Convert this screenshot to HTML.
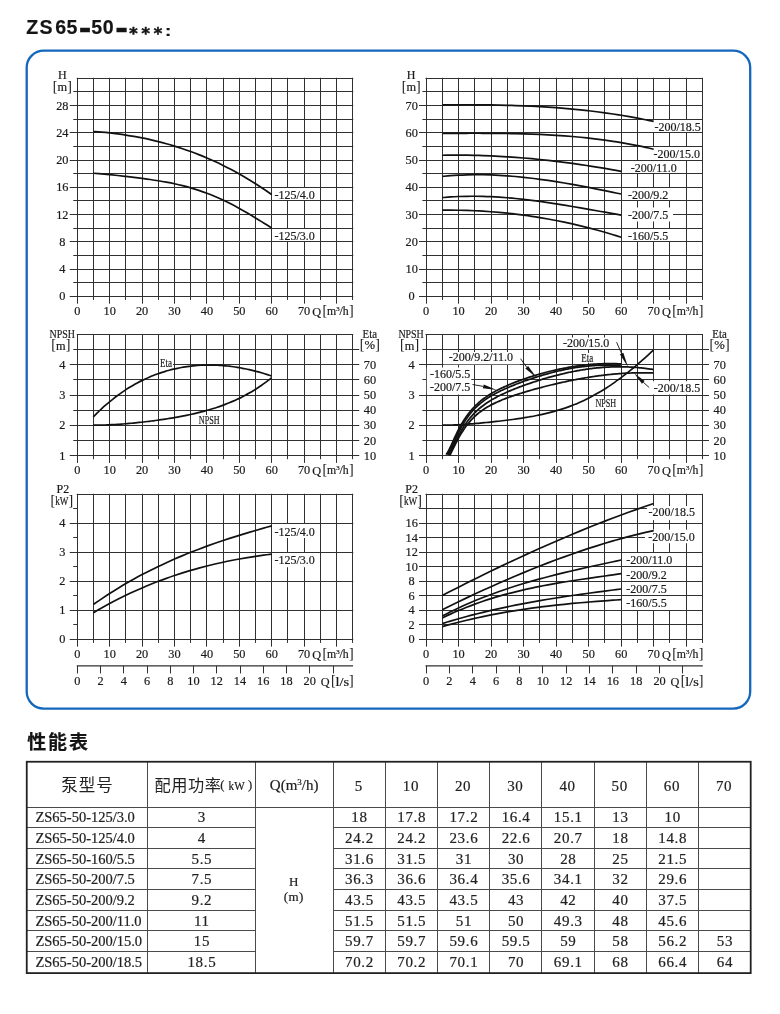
<!DOCTYPE html>
<html lang="zh-CN">
<head>
<meta charset="utf-8">
<title>ZS 65-50 性能表</title>
<style>
html,body{margin:0;padding:0;background:#fff;}
body{width:780px;height:1014px;position:relative;overflow:hidden;font-family:"Liberation Sans","Noto Sans CJK SC",sans-serif;}
</style>
</head>
<body>
<svg width="780" height="1014" viewBox="0 0 780 1014" style="position:absolute;left:0;top:0;will-change:transform" font-family='"Liberation Serif", serif'>
<style>text{stroke:#1a1a1a;stroke-width:0.2px}</style>
<rect x="26.7" y="50.7" width="723.5" height="657.9" rx="17" ry="17" fill="none" stroke="#1467bd" stroke-width="2.3"/>
<text x="26.3" y="34.2" font-size="19.6" font-weight="bold" fill="#141414" font-family='"Liberation Sans","Noto Sans CJK SC",sans-serif' letter-spacing="1.2">ZS</text>
<text x="55.2" y="34.2" font-size="19.6" font-weight="bold" fill="#141414" font-family='"Liberation Sans","Noto Sans CJK SC",sans-serif' letter-spacing="0.5">65</text>
<text x="91.3" y="34.2" font-size="19.6" font-weight="bold" fill="#141414" font-family='"Liberation Sans","Noto Sans CJK SC",sans-serif' letter-spacing="0.5">50</text>
<text transform="translate(78.82,39.03) scale(1.93,1.67)" font-size="19.6" font-weight="bold" fill="#141414" font-family='"Liberation Sans","Noto Sans CJK SC",sans-serif'>-</text>
<text transform="translate(115.21,39.03) scale(1.95,1.67)" font-size="19.6" font-weight="bold" fill="#141414" font-family='"Liberation Sans","Noto Sans CJK SC",sans-serif'>-</text>
<text x="128.4" y="38.7" font-size="16.5" font-weight="700" letter-spacing="2.37" fill="#141414" style="stroke-width:0.55px" font-family='"DejaVu Sans Mono","Liberation Mono",monospace'>***</text>
<text transform="translate(165.1,35.6) scale(1.35,1)" font-size="14" font-weight="bold" fill="#141414" font-family='"Liberation Sans","Noto Sans CJK SC",sans-serif'>:</text>
<line x1="77.5" y1="77.75" x2="77.5" y2="303.65" stroke="#303030" stroke-width="1"/>
<line x1="93.5" y1="77.75" x2="93.5" y2="299.95" stroke="#303030" stroke-width="1"/>
<line x1="109.5" y1="77.75" x2="109.5" y2="303.65" stroke="#303030" stroke-width="1"/>
<line x1="125.5" y1="77.75" x2="125.5" y2="299.95" stroke="#303030" stroke-width="1"/>
<line x1="142.5" y1="77.75" x2="142.5" y2="303.65" stroke="#303030" stroke-width="1"/>
<line x1="158.5" y1="77.75" x2="158.5" y2="299.95" stroke="#303030" stroke-width="1"/>
<line x1="174.5" y1="77.75" x2="174.5" y2="303.65" stroke="#303030" stroke-width="1"/>
<line x1="190.5" y1="77.75" x2="190.5" y2="299.95" stroke="#303030" stroke-width="1"/>
<line x1="206.5" y1="77.75" x2="206.5" y2="303.65" stroke="#303030" stroke-width="1"/>
<line x1="223.5" y1="77.75" x2="223.5" y2="299.95" stroke="#303030" stroke-width="1"/>
<line x1="239.5" y1="77.75" x2="239.5" y2="303.65" stroke="#303030" stroke-width="1"/>
<line x1="255.5" y1="77.75" x2="255.5" y2="299.95" stroke="#303030" stroke-width="1"/>
<line x1="271.5" y1="77.75" x2="271.5" y2="303.65" stroke="#303030" stroke-width="1"/>
<line x1="287.5" y1="77.75" x2="287.5" y2="299.95" stroke="#303030" stroke-width="1"/>
<line x1="304.5" y1="77.75" x2="304.5" y2="303.65" stroke="#303030" stroke-width="1"/>
<line x1="320.5" y1="77.75" x2="320.5" y2="299.95" stroke="#303030" stroke-width="1"/>
<line x1="336.5" y1="77.75" x2="336.5" y2="303.65" stroke="#303030" stroke-width="1"/>
<line x1="352.5" y1="77.75" x2="352.5" y2="299.95" stroke="#303030" stroke-width="1"/>
<line x1="76.75" y1="78.5" x2="353.25" y2="78.5" stroke="#303030" stroke-width="1"/>
<line x1="76.75" y1="91.5" x2="353.25" y2="91.5" stroke="#303030" stroke-width="1"/>
<line x1="76.75" y1="105.5" x2="353.25" y2="105.5" stroke="#303030" stroke-width="1"/>
<line x1="76.75" y1="119.5" x2="353.25" y2="119.5" stroke="#303030" stroke-width="1"/>
<line x1="76.75" y1="132.5" x2="353.25" y2="132.5" stroke="#303030" stroke-width="1"/>
<line x1="76.75" y1="146.5" x2="353.25" y2="146.5" stroke="#303030" stroke-width="1"/>
<line x1="76.75" y1="160.5" x2="353.25" y2="160.5" stroke="#303030" stroke-width="1"/>
<line x1="76.75" y1="173.5" x2="353.25" y2="173.5" stroke="#303030" stroke-width="1"/>
<line x1="76.75" y1="187.5" x2="353.25" y2="187.5" stroke="#303030" stroke-width="1"/>
<line x1="76.75" y1="200.5" x2="353.25" y2="200.5" stroke="#303030" stroke-width="1"/>
<line x1="76.75" y1="214.5" x2="353.25" y2="214.5" stroke="#303030" stroke-width="1"/>
<line x1="76.75" y1="228.5" x2="353.25" y2="228.5" stroke="#303030" stroke-width="1"/>
<line x1="76.75" y1="241.5" x2="353.25" y2="241.5" stroke="#303030" stroke-width="1"/>
<line x1="76.75" y1="255.5" x2="353.25" y2="255.5" stroke="#303030" stroke-width="1"/>
<line x1="76.75" y1="269.5" x2="353.25" y2="269.5" stroke="#303030" stroke-width="1"/>
<line x1="76.75" y1="282.5" x2="353.25" y2="282.5" stroke="#303030" stroke-width="1"/>
<line x1="76.75" y1="296.5" x2="353.25" y2="296.5" stroke="#303030" stroke-width="1"/>
<text x="77.25" y="314.55" font-size="12.3" text-anchor="middle" fill="#1a1a1a" >0</text>
<text x="109.66" y="314.55" font-size="12.3" text-anchor="middle" fill="#1a1a1a" >10</text>
<text x="142.07" y="314.55" font-size="12.3" text-anchor="middle" fill="#1a1a1a" >20</text>
<text x="174.49" y="314.55" font-size="12.3" text-anchor="middle" fill="#1a1a1a" >30</text>
<text x="206.9" y="314.55" font-size="12.3" text-anchor="middle" fill="#1a1a1a" >40</text>
<text x="239.31" y="314.55" font-size="12.3" text-anchor="middle" fill="#1a1a1a" >50</text>
<text x="271.72" y="314.55" font-size="12.3" text-anchor="middle" fill="#1a1a1a" >60</text>
<text x="304.13" y="314.55" font-size="12.3" text-anchor="middle" fill="#1a1a1a" >70</text>
<text x="312.15" y="315.65" font-size="12.3" text-anchor="start" fill="#1a1a1a" >Q</text>
<text x="322.41" y="314.85" font-size="14" fill="#1a1a1a" style="stroke-width:0.05px">[</text>
<text x="326.95" y="315.15" font-size="12" textLength="21.8" lengthAdjust="spacingAndGlyphs" fill="#1a1a1a">m<tspan font-size="7" dy="-4">3</tspan><tspan dy="4">/h</tspan></text>
<text x="349.04" y="314.85" font-size="14" fill="#1a1a1a" style="stroke-width:0.05px">]</text>
<line x1="69.75" y1="296.5" x2="77.25" y2="296.5" stroke="#303030" stroke-width="1"/>
<line x1="69.75" y1="269.5" x2="77.25" y2="269.5" stroke="#303030" stroke-width="1"/>
<line x1="69.75" y1="241.5" x2="77.25" y2="241.5" stroke="#303030" stroke-width="1"/>
<line x1="69.75" y1="214.5" x2="77.25" y2="214.5" stroke="#303030" stroke-width="1"/>
<line x1="69.75" y1="187.5" x2="77.25" y2="187.5" stroke="#303030" stroke-width="1"/>
<line x1="69.75" y1="160.5" x2="77.25" y2="160.5" stroke="#303030" stroke-width="1"/>
<line x1="69.75" y1="132.5" x2="77.25" y2="132.5" stroke="#303030" stroke-width="1"/>
<line x1="69.75" y1="105.5" x2="77.25" y2="105.5" stroke="#303030" stroke-width="1"/>
<line x1="73.25" y1="282.5" x2="77.25" y2="282.5" stroke="#303030" stroke-width="1"/>
<line x1="73.25" y1="255.5" x2="77.25" y2="255.5" stroke="#303030" stroke-width="1"/>
<line x1="73.25" y1="228.5" x2="77.25" y2="228.5" stroke="#303030" stroke-width="1"/>
<line x1="73.25" y1="200.5" x2="77.25" y2="200.5" stroke="#303030" stroke-width="1"/>
<line x1="73.25" y1="173.5" x2="77.25" y2="173.5" stroke="#303030" stroke-width="1"/>
<line x1="73.25" y1="146.5" x2="77.25" y2="146.5" stroke="#303030" stroke-width="1"/>
<line x1="73.25" y1="119.5" x2="77.25" y2="119.5" stroke="#303030" stroke-width="1"/>
<line x1="73.25" y1="91.5" x2="77.25" y2="91.5" stroke="#303030" stroke-width="1"/>
<text x="62.35" y="300.45" font-size="12.3" text-anchor="middle" fill="#1a1a1a" >0</text>
<text x="62.35" y="273.2" font-size="12.3" text-anchor="middle" fill="#1a1a1a" >4</text>
<text x="62.35" y="245.95" font-size="12.3" text-anchor="middle" fill="#1a1a1a" >8</text>
<text x="62.35" y="218.7" font-size="12.3" text-anchor="middle" fill="#1a1a1a" >12</text>
<text x="62.35" y="191.45" font-size="12.3" text-anchor="middle" fill="#1a1a1a" >16</text>
<text x="62.35" y="164.2" font-size="12.3" text-anchor="middle" fill="#1a1a1a" >20</text>
<text x="62.35" y="136.95" font-size="12.3" text-anchor="middle" fill="#1a1a1a" >24</text>
<text x="62.35" y="109.7" font-size="12.3" text-anchor="middle" fill="#1a1a1a" >28</text>
<text x="62.4" y="79.4" font-size="12" text-anchor="middle" fill="#1a1a1a" >H</text>
<text x="52.76" y="90.5" font-size="14" fill="#1a1a1a" style="stroke-width:0.05px">[</text>
<text x="57.5" y="90.7" font-size="12" textLength="9.6" lengthAdjust="spacingAndGlyphs" fill="#1a1a1a">m</text>
<text x="67.19" y="90.5" font-size="14" fill="#1a1a1a" style="stroke-width:0.05px">]</text>
<rect x="272" y="188" width="48" height="12" fill="#fff"/>
<text x="274.5" y="198.8" font-size="12" text-anchor="start" fill="#1a1a1a" >-125/4.0</text>
<rect x="272" y="229" width="48" height="12" fill="#fff"/>
<text x="274.5" y="239.5" font-size="12" text-anchor="start" fill="#1a1a1a" >-125/3.0</text>
<path d="M93.46,131.54 C94.81,131.64 98.86,131.92 101.56,132.16 C104.26,132.39 106.96,132.65 109.66,132.94 C112.36,133.23 115.06,133.55 117.76,133.9 C120.47,134.26 123.17,134.64 125.87,135.05 C128.57,135.46 131.27,135.9 133.97,136.38 C136.67,136.86 139.37,137.37 142.07,137.91 C144.77,138.45 147.48,139.03 150.18,139.64 C152.88,140.25 155.58,140.9 158.28,141.58 C160.98,142.26 163.68,142.98 166.38,143.74 C169.08,144.49 171.78,145.29 174.49,146.12 C177.19,146.95 179.89,147.82 182.59,148.73 C185.29,149.64 187.99,150.58 190.69,151.57 C193.39,152.56 196.09,153.59 198.79,154.66 C201.5,155.73 204.2,156.85 206.9,158 C209.6,159.16 212.3,160.36 215,161.6 C217.7,162.84 220.4,164.13 223.1,165.46 C225.8,166.79 228.5,168.17 231.21,169.59 C233.91,171.01 236.61,172.48 239.31,173.99 C242.01,175.51 244.71,177.07 247.41,178.69 C250.11,180.3 252.81,181.96 255.51,183.67 C258.22,185.38 260.92,187.13 263.62,188.95 C266.32,190.76 270.37,193.6 271.72,194.53" fill="none" stroke="#111" stroke-width="1.7" stroke-linecap="butt" stroke-linejoin="round"/>
<path d="M93.46,173.27 C94.81,173.38 98.86,173.69 101.56,173.92 C104.26,174.15 106.96,174.41 109.66,174.68 C112.36,174.94 115.06,175.22 117.76,175.51 C120.47,175.79 123.17,176.09 125.87,176.4 C128.57,176.7 131.27,177.02 133.97,177.34 C136.67,177.67 139.37,178.01 142.07,178.36 C144.77,178.72 147.48,179.09 150.18,179.48 C152.88,179.87 155.58,180.28 158.28,180.73 C160.98,181.17 163.68,181.64 166.38,182.14 C169.08,182.65 171.78,183.18 174.49,183.77 C177.19,184.35 179.89,184.97 182.59,185.65 C185.29,186.33 187.99,187.05 190.69,187.83 C193.39,188.61 196.09,189.44 198.79,190.33 C201.5,191.23 204.2,192.18 206.9,193.2 C209.6,194.22 212.3,195.3 215,196.44 C217.7,197.59 220.4,198.8 223.1,200.07 C225.8,201.34 228.5,202.67 231.21,204.06 C233.91,205.46 236.61,206.91 239.31,208.41 C242.01,209.91 244.71,211.47 247.41,213.05 C250.11,214.64 252.81,216.28 255.51,217.92 C258.22,219.56 260.92,221.25 263.62,222.92 C266.32,224.58 270.37,227.08 271.72,227.91" fill="none" stroke="#111" stroke-width="1.7" stroke-linecap="butt" stroke-linejoin="round"/>
<line x1="426.5" y1="77.75" x2="426.5" y2="303.65" stroke="#303030" stroke-width="1"/>
<line x1="442.5" y1="77.75" x2="442.5" y2="299.95" stroke="#303030" stroke-width="1"/>
<line x1="458.5" y1="77.75" x2="458.5" y2="303.65" stroke="#303030" stroke-width="1"/>
<line x1="474.5" y1="77.75" x2="474.5" y2="299.95" stroke="#303030" stroke-width="1"/>
<line x1="491.5" y1="77.75" x2="491.5" y2="303.65" stroke="#303030" stroke-width="1"/>
<line x1="507.5" y1="77.75" x2="507.5" y2="299.95" stroke="#303030" stroke-width="1"/>
<line x1="523.5" y1="77.75" x2="523.5" y2="303.65" stroke="#303030" stroke-width="1"/>
<line x1="539.5" y1="77.75" x2="539.5" y2="299.95" stroke="#303030" stroke-width="1"/>
<line x1="556.5" y1="77.75" x2="556.5" y2="303.65" stroke="#303030" stroke-width="1"/>
<line x1="572.5" y1="77.75" x2="572.5" y2="299.95" stroke="#303030" stroke-width="1"/>
<line x1="588.5" y1="77.75" x2="588.5" y2="303.65" stroke="#303030" stroke-width="1"/>
<line x1="604.5" y1="77.75" x2="604.5" y2="299.95" stroke="#303030" stroke-width="1"/>
<line x1="621.5" y1="77.75" x2="621.5" y2="303.65" stroke="#303030" stroke-width="1"/>
<line x1="637.5" y1="77.75" x2="637.5" y2="299.95" stroke="#303030" stroke-width="1"/>
<line x1="653.5" y1="77.75" x2="653.5" y2="303.65" stroke="#303030" stroke-width="1"/>
<line x1="669.5" y1="77.75" x2="669.5" y2="299.95" stroke="#303030" stroke-width="1"/>
<line x1="686.5" y1="77.75" x2="686.5" y2="303.65" stroke="#303030" stroke-width="1"/>
<line x1="702.5" y1="77.75" x2="702.5" y2="299.95" stroke="#303030" stroke-width="1"/>
<line x1="425.5" y1="78.5" x2="703" y2="78.5" stroke="#303030" stroke-width="1"/>
<line x1="425.5" y1="91.5" x2="703" y2="91.5" stroke="#303030" stroke-width="1"/>
<line x1="425.5" y1="105.5" x2="703" y2="105.5" stroke="#303030" stroke-width="1"/>
<line x1="425.5" y1="119.5" x2="703" y2="119.5" stroke="#303030" stroke-width="1"/>
<line x1="425.5" y1="132.5" x2="703" y2="132.5" stroke="#303030" stroke-width="1"/>
<line x1="425.5" y1="146.5" x2="703" y2="146.5" stroke="#303030" stroke-width="1"/>
<line x1="425.5" y1="160.5" x2="703" y2="160.5" stroke="#303030" stroke-width="1"/>
<line x1="425.5" y1="173.5" x2="703" y2="173.5" stroke="#303030" stroke-width="1"/>
<line x1="425.5" y1="187.5" x2="703" y2="187.5" stroke="#303030" stroke-width="1"/>
<line x1="425.5" y1="200.5" x2="703" y2="200.5" stroke="#303030" stroke-width="1"/>
<line x1="425.5" y1="214.5" x2="703" y2="214.5" stroke="#303030" stroke-width="1"/>
<line x1="425.5" y1="228.5" x2="703" y2="228.5" stroke="#303030" stroke-width="1"/>
<line x1="425.5" y1="241.5" x2="703" y2="241.5" stroke="#303030" stroke-width="1"/>
<line x1="425.5" y1="255.5" x2="703" y2="255.5" stroke="#303030" stroke-width="1"/>
<line x1="425.5" y1="269.5" x2="703" y2="269.5" stroke="#303030" stroke-width="1"/>
<line x1="425.5" y1="282.5" x2="703" y2="282.5" stroke="#303030" stroke-width="1"/>
<line x1="425.5" y1="296.5" x2="703" y2="296.5" stroke="#303030" stroke-width="1"/>
<text x="426" y="314.55" font-size="12.3" text-anchor="middle" fill="#1a1a1a" >0</text>
<text x="458.53" y="314.55" font-size="12.3" text-anchor="middle" fill="#1a1a1a" >10</text>
<text x="491.06" y="314.55" font-size="12.3" text-anchor="middle" fill="#1a1a1a" >20</text>
<text x="523.59" y="314.55" font-size="12.3" text-anchor="middle" fill="#1a1a1a" >30</text>
<text x="556.12" y="314.55" font-size="12.3" text-anchor="middle" fill="#1a1a1a" >40</text>
<text x="588.65" y="314.55" font-size="12.3" text-anchor="middle" fill="#1a1a1a" >50</text>
<text x="621.18" y="314.55" font-size="12.3" text-anchor="middle" fill="#1a1a1a" >60</text>
<text x="653.71" y="314.55" font-size="12.3" text-anchor="middle" fill="#1a1a1a" >70</text>
<text x="661.9" y="315.65" font-size="12.3" text-anchor="start" fill="#1a1a1a" >Q</text>
<text x="672.16" y="314.85" font-size="14" fill="#1a1a1a" style="stroke-width:0.05px">[</text>
<text x="676.7" y="315.15" font-size="12" textLength="21.8" lengthAdjust="spacingAndGlyphs" fill="#1a1a1a">m<tspan font-size="7" dy="-4">3</tspan><tspan dy="4">/h</tspan></text>
<text x="698.79" y="314.85" font-size="14" fill="#1a1a1a" style="stroke-width:0.05px">]</text>
<line x1="419" y1="296.5" x2="426" y2="296.5" stroke="#303030" stroke-width="1"/>
<line x1="419" y1="269.5" x2="426" y2="269.5" stroke="#303030" stroke-width="1"/>
<line x1="419" y1="241.5" x2="426" y2="241.5" stroke="#303030" stroke-width="1"/>
<line x1="419" y1="214.5" x2="426" y2="214.5" stroke="#303030" stroke-width="1"/>
<line x1="419" y1="187.5" x2="426" y2="187.5" stroke="#303030" stroke-width="1"/>
<line x1="419" y1="160.5" x2="426" y2="160.5" stroke="#303030" stroke-width="1"/>
<line x1="419" y1="132.5" x2="426" y2="132.5" stroke="#303030" stroke-width="1"/>
<line x1="419" y1="105.5" x2="426" y2="105.5" stroke="#303030" stroke-width="1"/>
<line x1="422.4" y1="282.5" x2="426" y2="282.5" stroke="#303030" stroke-width="1"/>
<line x1="422.4" y1="255.5" x2="426" y2="255.5" stroke="#303030" stroke-width="1"/>
<line x1="422.4" y1="228.5" x2="426" y2="228.5" stroke="#303030" stroke-width="1"/>
<line x1="422.4" y1="200.5" x2="426" y2="200.5" stroke="#303030" stroke-width="1"/>
<line x1="422.4" y1="173.5" x2="426" y2="173.5" stroke="#303030" stroke-width="1"/>
<line x1="422.4" y1="146.5" x2="426" y2="146.5" stroke="#303030" stroke-width="1"/>
<line x1="422.4" y1="119.5" x2="426" y2="119.5" stroke="#303030" stroke-width="1"/>
<line x1="422.4" y1="91.5" x2="426" y2="91.5" stroke="#303030" stroke-width="1"/>
<text x="411.7" y="300.45" font-size="12.3" text-anchor="middle" fill="#1a1a1a" >0</text>
<text x="411.7" y="273.2" font-size="12.3" text-anchor="middle" fill="#1a1a1a" >10</text>
<text x="411.7" y="245.95" font-size="12.3" text-anchor="middle" fill="#1a1a1a" >20</text>
<text x="411.7" y="218.7" font-size="12.3" text-anchor="middle" fill="#1a1a1a" >30</text>
<text x="411.7" y="191.45" font-size="12.3" text-anchor="middle" fill="#1a1a1a" >40</text>
<text x="411.7" y="164.2" font-size="12.3" text-anchor="middle" fill="#1a1a1a" >50</text>
<text x="411.7" y="136.95" font-size="12.3" text-anchor="middle" fill="#1a1a1a" >60</text>
<text x="411.7" y="109.7" font-size="12.3" text-anchor="middle" fill="#1a1a1a" >70</text>
<text x="411.2" y="79.4" font-size="12" text-anchor="middle" fill="#1a1a1a" >H</text>
<text x="401.66" y="90.5" font-size="14" fill="#1a1a1a" style="stroke-width:0.05px">[</text>
<text x="406.4" y="90.7" font-size="12" textLength="9.6" lengthAdjust="spacingAndGlyphs" fill="#1a1a1a">m</text>
<text x="416.09" y="90.5" font-size="14" fill="#1a1a1a" style="stroke-width:0.05px">]</text>
<rect x="652.5" y="120" width="49.5" height="12" fill="#fff"/>
<text x="654.5" y="130.8" font-size="12" text-anchor="start" fill="#1a1a1a" >-200/18.5</text>
<rect x="652.5" y="147" width="49.5" height="13" fill="#fff"/>
<text x="653.6" y="158" font-size="12" text-anchor="start" fill="#1a1a1a" >-200/15.0</text>
<rect x="622" y="161" width="64" height="12" fill="#fff"/>
<text x="630.8" y="171.5" font-size="12" text-anchor="start" fill="#1a1a1a" >-200/11.0</text>
<rect x="622" y="188" width="64" height="12" fill="#fff"/>
<text x="628" y="198.8" font-size="12" text-anchor="start" fill="#1a1a1a" >-200/9.2</text>
<rect x="622" y="207.5" width="51" height="14" fill="#fff"/>
<text x="628" y="219.3" font-size="12" text-anchor="start" fill="#1a1a1a" >-200/7.5</text>
<rect x="622" y="229" width="64" height="12" fill="#fff"/>
<text x="628" y="239.5" font-size="12" text-anchor="start" fill="#1a1a1a" >-160/5.5</text>
<path d="M442.26,104.89 C443.62,104.88 447.69,104.84 450.4,104.82 C453.11,104.81 455.82,104.79 458.53,104.78 C461.24,104.77 463.95,104.77 466.66,104.77 C469.37,104.77 472.08,104.78 474.79,104.79 C477.5,104.8 480.22,104.82 482.93,104.85 C485.64,104.87 488.35,104.91 491.06,104.95 C493.77,104.99 496.48,105.04 499.19,105.09 C501.9,105.15 504.61,105.21 507.32,105.29 C510.03,105.36 512.75,105.44 515.46,105.53 C518.17,105.63 520.88,105.73 523.59,105.84 C526.3,105.95 529.01,106.07 531.72,106.2 C534.43,106.33 537.14,106.47 539.85,106.63 C542.56,106.78 545.27,106.95 547.99,107.12 C550.7,107.3 553.41,107.49 556.12,107.69 C558.83,107.89 561.54,108.11 564.25,108.33 C566.96,108.56 569.67,108.8 572.38,109.05 C575.09,109.31 577.8,109.58 580.51,109.86 C583.23,110.14 585.94,110.44 588.65,110.75 C591.36,111.06 594.07,111.39 596.78,111.73 C599.49,112.07 602.2,112.43 604.91,112.81 C607.62,113.18 610.33,113.57 613.04,113.98 C615.75,114.39 618.47,114.81 621.18,115.26 C623.89,115.7 626.6,116.16 629.31,116.64 C632.02,117.12 634.73,117.61 637.44,118.13 C640.15,118.64 642.86,119.18 645.57,119.73 C648.28,120.29 652.35,121.17 653.71,121.45" fill="none" stroke="#111" stroke-width="1.7" stroke-linecap="butt" stroke-linejoin="round"/>
<path d="M442.26,133.37 C443.62,133.36 447.69,133.34 450.4,133.33 C453.11,133.32 455.82,133.31 458.53,133.3 C461.24,133.29 463.95,133.28 466.66,133.28 C469.37,133.27 472.08,133.27 474.79,133.27 C477.5,133.27 480.22,133.27 482.93,133.28 C485.64,133.29 488.35,133.3 491.06,133.32 C493.77,133.33 496.48,133.36 499.19,133.39 C501.9,133.42 504.61,133.45 507.32,133.49 C510.03,133.54 512.75,133.59 515.46,133.65 C518.17,133.71 520.88,133.77 523.59,133.85 C526.3,133.93 529.01,134.02 531.72,134.12 C534.43,134.21 537.14,134.32 539.85,134.44 C542.56,134.56 545.27,134.69 547.99,134.84 C550.7,134.98 553.41,135.14 556.12,135.31 C558.83,135.48 561.54,135.67 564.25,135.87 C566.96,136.07 569.67,136.28 572.38,136.51 C575.09,136.74 577.8,136.99 580.51,137.25 C583.23,137.51 585.94,137.79 588.65,138.09 C591.36,138.39 594.07,138.71 596.78,139.04 C599.49,139.38 602.2,139.73 604.91,140.1 C607.62,140.48 610.33,140.87 613.04,141.29 C615.75,141.7 618.47,142.14 621.18,142.6 C623.89,143.05 626.6,143.53 629.31,144.04 C632.02,144.54 634.73,145.07 637.44,145.62 C640.15,146.17 642.86,146.74 645.57,147.34 C648.28,147.95 652.35,148.91 653.71,149.22" fill="none" stroke="#111" stroke-width="1.7" stroke-linecap="butt" stroke-linejoin="round"/>
<path d="M442.26,155.24 C443.62,155.23 447.69,155.16 450.4,155.14 C453.11,155.12 455.82,155.11 458.53,155.12 C461.24,155.13 463.95,155.15 466.66,155.19 C469.37,155.22 472.08,155.27 474.79,155.34 C477.5,155.41 480.22,155.49 482.93,155.58 C485.64,155.67 488.35,155.78 491.06,155.9 C493.77,156.02 496.48,156.16 499.19,156.31 C501.9,156.45 504.61,156.62 507.32,156.79 C510.03,156.97 512.75,157.15 515.46,157.36 C518.17,157.56 520.88,157.77 523.59,158 C526.3,158.23 529.01,158.47 531.72,158.72 C534.43,158.97 537.14,159.24 539.85,159.51 C542.56,159.79 545.27,160.08 547.99,160.38 C550.7,160.69 553.41,161 556.12,161.33 C558.83,161.65 561.54,161.99 564.25,162.34 C566.96,162.69 569.67,163.05 572.38,163.43 C575.09,163.8 577.8,164.18 580.51,164.58 C583.23,164.98 585.94,165.38 588.65,165.8 C591.36,166.22 594.07,166.65 596.78,167.09 C599.49,167.53 602.2,167.98 604.91,168.44 C607.62,168.9 610.33,169.37 613.04,169.86 C615.75,170.34 619.82,171.09 621.18,171.34" fill="none" stroke="#111" stroke-width="1.7" stroke-linecap="butt" stroke-linejoin="round"/>
<path d="M442.26,176.41 C443.62,176.29 447.69,175.89 450.4,175.68 C453.11,175.47 455.82,175.3 458.53,175.15 C461.24,175.01 463.95,174.9 466.66,174.83 C469.37,174.75 472.08,174.71 474.79,174.69 C477.5,174.67 480.22,174.69 482.93,174.73 C485.64,174.78 488.35,174.85 491.06,174.95 C493.77,175.05 496.48,175.17 499.19,175.32 C501.9,175.47 504.61,175.65 507.32,175.85 C510.03,176.05 512.75,176.28 515.46,176.52 C518.17,176.77 520.88,177.04 523.59,177.33 C526.3,177.62 529.01,177.93 531.72,178.26 C534.43,178.58 537.14,178.93 539.85,179.3 C542.56,179.66 545.27,180.05 547.99,180.45 C550.7,180.85 553.41,181.27 556.12,181.7 C558.83,182.12 561.54,182.57 564.25,183.03 C566.96,183.49 569.67,183.96 572.38,184.44 C575.09,184.92 577.8,185.42 580.51,185.92 C583.23,186.42 585.94,186.94 588.65,187.46 C591.36,187.98 594.07,188.51 596.78,189.05 C599.49,189.58 602.2,190.13 604.91,190.68 C607.62,191.22 610.33,191.78 613.04,192.34 C615.75,192.89 619.82,193.74 621.18,194.02" fill="none" stroke="#111" stroke-width="1.7" stroke-linecap="butt" stroke-linejoin="round"/>
<path d="M442.26,197.62 C443.62,197.51 447.69,197.14 450.4,196.96 C453.11,196.78 455.82,196.64 458.53,196.52 C461.24,196.41 463.95,196.34 466.66,196.29 C469.37,196.24 472.08,196.23 474.79,196.25 C477.5,196.26 480.22,196.31 482.93,196.38 C485.64,196.46 488.35,196.56 491.06,196.69 C493.77,196.82 496.48,196.98 499.19,197.15 C501.9,197.33 504.61,197.54 507.32,197.76 C510.03,197.99 512.75,198.24 515.46,198.51 C518.17,198.78 520.88,199.07 523.59,199.37 C526.3,199.68 529.01,200.01 531.72,200.35 C534.43,200.69 537.14,201.05 539.85,201.42 C542.56,201.8 545.27,202.19 547.99,202.59 C550.7,202.99 553.41,203.4 556.12,203.82 C558.83,204.25 561.54,204.68 564.25,205.13 C566.96,205.57 569.67,206.02 572.38,206.48 C575.09,206.94 577.8,207.41 580.51,207.88 C583.23,208.35 585.94,208.82 588.65,209.3 C591.36,209.78 594.07,210.26 596.78,210.74 C599.49,211.22 602.2,211.71 604.91,212.19 C607.62,212.67 610.33,213.16 613.04,213.63 C615.75,214.11 619.82,214.82 621.18,215.06" fill="none" stroke="#111" stroke-width="1.7" stroke-linecap="butt" stroke-linejoin="round"/>
<path d="M442.26,210.17 C443.62,210.17 447.69,210.13 450.4,210.14 C453.11,210.15 455.82,210.18 458.53,210.23 C461.24,210.27 463.95,210.34 466.66,210.43 C469.37,210.51 472.08,210.62 474.79,210.74 C477.5,210.87 480.22,211.01 482.93,211.18 C485.64,211.34 488.35,211.53 491.06,211.73 C493.77,211.93 496.48,212.16 499.19,212.4 C501.9,212.64 504.61,212.91 507.32,213.19 C510.03,213.48 512.75,213.78 515.46,214.1 C518.17,214.43 520.88,214.77 523.59,215.14 C526.3,215.5 529.01,215.88 531.72,216.29 C534.43,216.69 537.14,217.12 539.85,217.57 C542.56,218.01 545.27,218.48 547.99,218.97 C550.7,219.45 553.41,219.96 556.12,220.49 C558.83,221.02 561.54,221.57 564.25,222.14 C566.96,222.71 569.67,223.3 572.38,223.91 C575.09,224.53 577.8,225.16 580.51,225.82 C583.23,226.47 585.94,227.15 588.65,227.84 C591.36,228.54 594.07,229.26 596.78,230 C599.49,230.74 602.2,231.5 604.91,232.28 C607.62,233.07 610.33,233.87 613.04,234.7 C615.75,235.52 619.82,236.82 621.18,237.24" fill="none" stroke="#111" stroke-width="1.7" stroke-linecap="butt" stroke-linejoin="round"/>
<line x1="77.5" y1="334" x2="77.5" y2="462.9" stroke="#303030" stroke-width="1"/>
<line x1="93.5" y1="334" x2="93.5" y2="459.2" stroke="#303030" stroke-width="1"/>
<line x1="109.5" y1="334" x2="109.5" y2="462.9" stroke="#303030" stroke-width="1"/>
<line x1="125.5" y1="334" x2="125.5" y2="459.2" stroke="#303030" stroke-width="1"/>
<line x1="142.5" y1="334" x2="142.5" y2="462.9" stroke="#303030" stroke-width="1"/>
<line x1="158.5" y1="334" x2="158.5" y2="459.2" stroke="#303030" stroke-width="1"/>
<line x1="174.5" y1="334" x2="174.5" y2="462.9" stroke="#303030" stroke-width="1"/>
<line x1="190.5" y1="334" x2="190.5" y2="459.2" stroke="#303030" stroke-width="1"/>
<line x1="206.5" y1="334" x2="206.5" y2="462.9" stroke="#303030" stroke-width="1"/>
<line x1="223.5" y1="334" x2="223.5" y2="459.2" stroke="#303030" stroke-width="1"/>
<line x1="239.5" y1="334" x2="239.5" y2="462.9" stroke="#303030" stroke-width="1"/>
<line x1="255.5" y1="334" x2="255.5" y2="459.2" stroke="#303030" stroke-width="1"/>
<line x1="271.5" y1="334" x2="271.5" y2="462.9" stroke="#303030" stroke-width="1"/>
<line x1="287.5" y1="334" x2="287.5" y2="459.2" stroke="#303030" stroke-width="1"/>
<line x1="304.5" y1="334" x2="304.5" y2="462.9" stroke="#303030" stroke-width="1"/>
<line x1="320.5" y1="334" x2="320.5" y2="459.2" stroke="#303030" stroke-width="1"/>
<line x1="336.5" y1="334" x2="336.5" y2="462.9" stroke="#303030" stroke-width="1"/>
<line x1="352.5" y1="334" x2="352.5" y2="459.2" stroke="#303030" stroke-width="1"/>
<line x1="76.75" y1="334.5" x2="353.25" y2="334.5" stroke="#303030" stroke-width="1"/>
<line x1="76.75" y1="349.5" x2="353.25" y2="349.5" stroke="#303030" stroke-width="1"/>
<line x1="76.75" y1="364.5" x2="353.25" y2="364.5" stroke="#303030" stroke-width="1"/>
<line x1="76.75" y1="379.5" x2="353.25" y2="379.5" stroke="#303030" stroke-width="1"/>
<line x1="76.75" y1="395.5" x2="353.25" y2="395.5" stroke="#303030" stroke-width="1"/>
<line x1="76.75" y1="410.5" x2="353.25" y2="410.5" stroke="#303030" stroke-width="1"/>
<line x1="76.75" y1="425.5" x2="353.25" y2="425.5" stroke="#303030" stroke-width="1"/>
<line x1="76.75" y1="440.5" x2="353.25" y2="440.5" stroke="#303030" stroke-width="1"/>
<line x1="76.75" y1="455.5" x2="353.25" y2="455.5" stroke="#303030" stroke-width="1"/>
<text x="77.25" y="473.8" font-size="12.3" text-anchor="middle" fill="#1a1a1a" >0</text>
<text x="109.66" y="473.8" font-size="12.3" text-anchor="middle" fill="#1a1a1a" >10</text>
<text x="142.07" y="473.8" font-size="12.3" text-anchor="middle" fill="#1a1a1a" >20</text>
<text x="174.49" y="473.8" font-size="12.3" text-anchor="middle" fill="#1a1a1a" >30</text>
<text x="206.9" y="473.8" font-size="12.3" text-anchor="middle" fill="#1a1a1a" >40</text>
<text x="239.31" y="473.8" font-size="12.3" text-anchor="middle" fill="#1a1a1a" >50</text>
<text x="271.72" y="473.8" font-size="12.3" text-anchor="middle" fill="#1a1a1a" >60</text>
<text x="304.13" y="473.8" font-size="12.3" text-anchor="middle" fill="#1a1a1a" >70</text>
<text x="312.15" y="474.9" font-size="12.3" text-anchor="start" fill="#1a1a1a" >Q</text>
<text x="322.41" y="474.1" font-size="14" fill="#1a1a1a" style="stroke-width:0.05px">[</text>
<text x="326.95" y="474.4" font-size="12" textLength="21.8" lengthAdjust="spacingAndGlyphs" fill="#1a1a1a">m<tspan font-size="7" dy="-4">3</tspan><tspan dy="4">/h</tspan></text>
<text x="349.04" y="474.1" font-size="14" fill="#1a1a1a" style="stroke-width:0.05px">]</text>
<line x1="69.75" y1="455.5" x2="77.25" y2="455.5" stroke="#303030" stroke-width="1"/>
<line x1="69.75" y1="425.5" x2="77.25" y2="425.5" stroke="#303030" stroke-width="1"/>
<line x1="69.75" y1="395.5" x2="77.25" y2="395.5" stroke="#303030" stroke-width="1"/>
<line x1="69.75" y1="364.5" x2="77.25" y2="364.5" stroke="#303030" stroke-width="1"/>
<line x1="73.25" y1="440.5" x2="77.25" y2="440.5" stroke="#303030" stroke-width="1"/>
<line x1="73.25" y1="410.5" x2="77.25" y2="410.5" stroke="#303030" stroke-width="1"/>
<line x1="73.25" y1="379.5" x2="77.25" y2="379.5" stroke="#303030" stroke-width="1"/>
<line x1="73.25" y1="349.5" x2="77.25" y2="349.5" stroke="#303030" stroke-width="1"/>
<text x="62.35" y="459.7" font-size="12.3" text-anchor="middle" fill="#1a1a1a" >1</text>
<text x="62.35" y="429.45" font-size="12.3" text-anchor="middle" fill="#1a1a1a" >2</text>
<text x="62.35" y="399.2" font-size="12.3" text-anchor="middle" fill="#1a1a1a" >3</text>
<text x="62.35" y="368.95" font-size="12.3" text-anchor="middle" fill="#1a1a1a" >4</text>
<line x1="352.75" y1="349.5" x2="359.25" y2="349.5" stroke="#303030" stroke-width="1"/>
<line x1="352.75" y1="364.5" x2="359.25" y2="364.5" stroke="#303030" stroke-width="1"/>
<line x1="352.75" y1="379.5" x2="359.25" y2="379.5" stroke="#303030" stroke-width="1"/>
<line x1="352.75" y1="395.5" x2="359.25" y2="395.5" stroke="#303030" stroke-width="1"/>
<line x1="352.75" y1="410.5" x2="359.25" y2="410.5" stroke="#303030" stroke-width="1"/>
<line x1="352.75" y1="425.5" x2="359.25" y2="425.5" stroke="#303030" stroke-width="1"/>
<line x1="352.75" y1="440.5" x2="359.25" y2="440.5" stroke="#303030" stroke-width="1"/>
<line x1="352.75" y1="455.5" x2="359.25" y2="455.5" stroke="#303030" stroke-width="1"/>
<text x="363.75" y="368.95" font-size="12.3" text-anchor="start" fill="#1a1a1a" >70</text>
<text x="363.75" y="384.07" font-size="12.3" text-anchor="start" fill="#1a1a1a" >60</text>
<text x="363.75" y="399.2" font-size="12.3" text-anchor="start" fill="#1a1a1a" >50</text>
<text x="363.75" y="414.32" font-size="12.3" text-anchor="start" fill="#1a1a1a" >40</text>
<text x="363.75" y="429.45" font-size="12.3" text-anchor="start" fill="#1a1a1a" >30</text>
<text x="363.75" y="444.57" font-size="12.3" text-anchor="start" fill="#1a1a1a" >20</text>
<text x="363.75" y="459.7" font-size="12.3" text-anchor="start" fill="#1a1a1a" >10</text>
<text x="362.55" y="337.9" font-size="12" textLength="14.4" lengthAdjust="spacingAndGlyphs" fill="#1a1a1a">Eta</text>
<text x="359.71" y="348.6" font-size="14" fill="#1a1a1a" style="stroke-width:0.05px">[</text>
<text x="364.55" y="349.1" font-size="12" textLength="10.6" lengthAdjust="spacingAndGlyphs" fill="#1a1a1a">%</text>
<text x="375.14" y="348.6" font-size="14" fill="#1a1a1a" style="stroke-width:0.05px">]</text>
<text x="49.6" y="338" font-size="12" textLength="25.4" lengthAdjust="spacingAndGlyphs" fill="#1a1a1a">NPSH</text>
<text x="51.26" y="349.4" font-size="14" fill="#1a1a1a" style="stroke-width:0.05px">[</text>
<text x="56" y="349.6" font-size="12" textLength="9.6" lengthAdjust="spacingAndGlyphs" fill="#1a1a1a">m</text>
<text x="65.69" y="349.4" font-size="14" fill="#1a1a1a" style="stroke-width:0.05px">]</text>
<rect x="159" y="357.5" width="14" height="10.5" fill="#fff"/>
<text x="160" y="367.3" font-size="12" textLength="12" lengthAdjust="spacingAndGlyphs" fill="#1a1a1a">Eta</text>
<rect x="198" y="415" width="22.5" height="9.5" fill="#fff"/>
<text x="198.8" y="423.8" font-size="11.6" textLength="20.7" lengthAdjust="spacingAndGlyphs" fill="#1a1a1a">NPSH</text>
<path d="M93.25,416.94 C93.92,416.27 95.92,414.22 97.25,412.91 C98.58,411.61 99.92,410.33 101.25,409.09 C102.58,407.85 103.92,406.64 105.25,405.47 C106.58,404.29 107.92,403.15 109.25,402.04 C110.58,400.93 111.92,399.85 113.25,398.79 C114.58,397.74 115.92,396.72 117.25,395.73 C118.58,394.74 119.92,393.78 121.25,392.85 C122.58,391.91 123.92,391.01 125.25,390.13 C126.58,389.26 127.92,388.41 129.25,387.58 C130.58,386.76 131.92,385.97 133.25,385.2 C134.58,384.43 135.92,383.68 137.25,382.96 C138.58,382.25 139.92,381.55 141.25,380.88 C142.58,380.22 143.92,379.57 145.25,378.95 C146.58,378.33 147.92,377.73 149.25,377.16 C150.58,376.59 151.92,376.04 153.25,375.51 C154.58,374.98 155.92,374.48 157.25,373.99 C158.58,373.51 159.92,373.05 161.25,372.61 C162.58,372.17 163.92,371.75 165.25,371.35 C166.58,370.95 167.92,370.58 169.25,370.22 C170.58,369.86 171.92,369.52 173.25,369.2 C174.58,368.89 175.92,368.59 177.25,368.31 C178.58,368.03 179.92,367.77 181.25,367.53 C182.58,367.29 183.92,367.06 185.25,366.86 C186.58,366.65 187.92,366.47 189.25,366.3 C190.58,366.13 191.92,365.98 193.25,365.84 C194.58,365.71 195.92,365.59 197.25,365.49 C198.58,365.39 199.92,365.31 201.25,365.25 C202.58,365.18 203.92,365.13 205.25,365.1 C206.58,365.06 207.92,365.05 209.25,365.05 C210.58,365.05 211.92,365.06 213.25,365.09 C214.58,365.12 215.92,365.17 217.25,365.23 C218.58,365.3 219.92,365.37 221.25,365.47 C222.58,365.56 223.92,365.67 225.25,365.79 C226.58,365.92 227.92,366.06 229.25,366.21 C230.58,366.37 231.92,366.54 233.25,366.72 C234.58,366.9 235.92,367.1 237.25,367.32 C238.58,367.53 239.92,367.76 241.25,368 C242.58,368.25 243.92,368.5 245.25,368.78 C246.58,369.05 247.92,369.34 249.25,369.64 C250.58,369.94 251.92,370.26 253.25,370.59 C254.58,370.92 255.92,371.26 257.25,371.63 C258.58,371.99 259.92,372.36 261.25,372.75 C262.58,373.14 263.92,373.55 265.25,373.97 C266.58,374.39 268.25,374.94 269.25,375.27 C270.25,375.6 270.92,375.84 271.25,375.96" fill="none" stroke="#111" stroke-width="1.7" stroke-linecap="butt" stroke-linejoin="round"/>
<path d="M93.25,425.22 C93.92,425.22 95.92,425.21 97.25,425.19 C98.58,425.17 99.92,425.14 101.25,425.11 C102.58,425.07 103.92,425.03 105.25,424.98 C106.58,424.93 107.92,424.87 109.25,424.81 C110.58,424.75 111.92,424.68 113.25,424.6 C114.58,424.52 115.92,424.44 117.25,424.35 C118.58,424.27 119.92,424.17 121.25,424.07 C122.58,423.98 123.92,423.87 125.25,423.76 C126.58,423.65 127.92,423.54 129.25,423.42 C130.58,423.3 131.92,423.18 133.25,423.05 C134.58,422.92 135.92,422.79 137.25,422.65 C138.58,422.51 139.92,422.37 141.25,422.23 C142.58,422.08 143.92,421.93 145.25,421.77 C146.58,421.62 147.92,421.46 149.25,421.29 C150.58,421.13 151.92,420.96 153.25,420.79 C154.58,420.61 155.92,420.44 157.25,420.25 C158.58,420.07 159.92,419.88 161.25,419.69 C162.58,419.49 163.92,419.3 165.25,419.09 C166.58,418.89 167.92,418.68 169.25,418.46 C170.58,418.25 171.92,418.03 173.25,417.8 C174.58,417.58 175.92,417.34 177.25,417.1 C178.58,416.86 179.92,416.62 181.25,416.36 C182.58,416.11 183.92,415.85 185.25,415.58 C186.58,415.31 187.92,415.03 189.25,414.75 C190.58,414.46 191.92,414.17 193.25,413.87 C194.58,413.56 195.92,413.25 197.25,412.93 C198.58,412.61 199.92,412.28 201.25,411.93 C202.58,411.59 203.92,411.24 205.25,410.87 C206.58,410.51 207.92,410.13 209.25,409.74 C210.58,409.35 211.92,408.95 213.25,408.53 C214.58,408.12 215.92,407.69 217.25,407.24 C218.58,406.8 219.92,406.34 221.25,405.86 C222.58,405.39 223.92,404.9 225.25,404.39 C226.58,403.88 227.92,403.35 229.25,402.81 C230.58,402.27 231.92,401.71 233.25,401.12 C234.58,400.54 235.92,399.94 237.25,399.32 C238.58,398.69 239.92,398.05 241.25,397.39 C242.58,396.72 243.92,396.03 245.25,395.32 C246.58,394.61 247.92,393.87 249.25,393.11 C250.58,392.35 251.92,391.56 253.25,390.75 C254.58,389.93 255.92,389.09 257.25,388.22 C258.58,387.35 259.92,386.45 261.25,385.52 C262.58,384.59 263.92,383.64 265.25,382.64 C266.58,381.65 268.25,380.35 269.25,379.57 C270.25,378.79 270.92,378.22 271.25,377.96" fill="none" stroke="#111" stroke-width="1.7" stroke-linecap="butt" stroke-linejoin="round"/>
<line x1="426.5" y1="334" x2="426.5" y2="462.9" stroke="#303030" stroke-width="1"/>
<line x1="442.5" y1="334" x2="442.5" y2="459.2" stroke="#303030" stroke-width="1"/>
<line x1="458.5" y1="334" x2="458.5" y2="462.9" stroke="#303030" stroke-width="1"/>
<line x1="474.5" y1="334" x2="474.5" y2="459.2" stroke="#303030" stroke-width="1"/>
<line x1="491.5" y1="334" x2="491.5" y2="462.9" stroke="#303030" stroke-width="1"/>
<line x1="507.5" y1="334" x2="507.5" y2="459.2" stroke="#303030" stroke-width="1"/>
<line x1="523.5" y1="334" x2="523.5" y2="462.9" stroke="#303030" stroke-width="1"/>
<line x1="539.5" y1="334" x2="539.5" y2="459.2" stroke="#303030" stroke-width="1"/>
<line x1="556.5" y1="334" x2="556.5" y2="462.9" stroke="#303030" stroke-width="1"/>
<line x1="572.5" y1="334" x2="572.5" y2="459.2" stroke="#303030" stroke-width="1"/>
<line x1="588.5" y1="334" x2="588.5" y2="462.9" stroke="#303030" stroke-width="1"/>
<line x1="604.5" y1="334" x2="604.5" y2="459.2" stroke="#303030" stroke-width="1"/>
<line x1="621.5" y1="334" x2="621.5" y2="462.9" stroke="#303030" stroke-width="1"/>
<line x1="637.5" y1="334" x2="637.5" y2="459.2" stroke="#303030" stroke-width="1"/>
<line x1="653.5" y1="334" x2="653.5" y2="462.9" stroke="#303030" stroke-width="1"/>
<line x1="669.5" y1="334" x2="669.5" y2="459.2" stroke="#303030" stroke-width="1"/>
<line x1="686.5" y1="334" x2="686.5" y2="462.9" stroke="#303030" stroke-width="1"/>
<line x1="702.5" y1="334" x2="702.5" y2="459.2" stroke="#303030" stroke-width="1"/>
<line x1="425.5" y1="334.5" x2="703" y2="334.5" stroke="#303030" stroke-width="1"/>
<line x1="425.5" y1="349.5" x2="703" y2="349.5" stroke="#303030" stroke-width="1"/>
<line x1="425.5" y1="364.5" x2="703" y2="364.5" stroke="#303030" stroke-width="1"/>
<line x1="425.5" y1="379.5" x2="703" y2="379.5" stroke="#303030" stroke-width="1"/>
<line x1="425.5" y1="395.5" x2="703" y2="395.5" stroke="#303030" stroke-width="1"/>
<line x1="425.5" y1="410.5" x2="703" y2="410.5" stroke="#303030" stroke-width="1"/>
<line x1="425.5" y1="425.5" x2="703" y2="425.5" stroke="#303030" stroke-width="1"/>
<line x1="425.5" y1="440.5" x2="703" y2="440.5" stroke="#303030" stroke-width="1"/>
<line x1="425.5" y1="455.5" x2="703" y2="455.5" stroke="#303030" stroke-width="1"/>
<text x="426" y="473.8" font-size="12.3" text-anchor="middle" fill="#1a1a1a" >0</text>
<text x="458.53" y="473.8" font-size="12.3" text-anchor="middle" fill="#1a1a1a" >10</text>
<text x="491.06" y="473.8" font-size="12.3" text-anchor="middle" fill="#1a1a1a" >20</text>
<text x="523.59" y="473.8" font-size="12.3" text-anchor="middle" fill="#1a1a1a" >30</text>
<text x="556.12" y="473.8" font-size="12.3" text-anchor="middle" fill="#1a1a1a" >40</text>
<text x="588.65" y="473.8" font-size="12.3" text-anchor="middle" fill="#1a1a1a" >50</text>
<text x="621.18" y="473.8" font-size="12.3" text-anchor="middle" fill="#1a1a1a" >60</text>
<text x="653.71" y="473.8" font-size="12.3" text-anchor="middle" fill="#1a1a1a" >70</text>
<text x="661.9" y="474.9" font-size="12.3" text-anchor="start" fill="#1a1a1a" >Q</text>
<text x="672.16" y="474.1" font-size="14" fill="#1a1a1a" style="stroke-width:0.05px">[</text>
<text x="676.7" y="474.4" font-size="12" textLength="21.8" lengthAdjust="spacingAndGlyphs" fill="#1a1a1a">m<tspan font-size="7" dy="-4">3</tspan><tspan dy="4">/h</tspan></text>
<text x="698.79" y="474.1" font-size="14" fill="#1a1a1a" style="stroke-width:0.05px">]</text>
<line x1="419" y1="455.5" x2="426" y2="455.5" stroke="#303030" stroke-width="1"/>
<line x1="419" y1="425.5" x2="426" y2="425.5" stroke="#303030" stroke-width="1"/>
<line x1="419" y1="395.5" x2="426" y2="395.5" stroke="#303030" stroke-width="1"/>
<line x1="419" y1="364.5" x2="426" y2="364.5" stroke="#303030" stroke-width="1"/>
<line x1="422.4" y1="440.5" x2="426" y2="440.5" stroke="#303030" stroke-width="1"/>
<line x1="422.4" y1="410.5" x2="426" y2="410.5" stroke="#303030" stroke-width="1"/>
<line x1="422.4" y1="379.5" x2="426" y2="379.5" stroke="#303030" stroke-width="1"/>
<line x1="422.4" y1="349.5" x2="426" y2="349.5" stroke="#303030" stroke-width="1"/>
<text x="411.7" y="459.7" font-size="12.3" text-anchor="middle" fill="#1a1a1a" >1</text>
<text x="411.7" y="429.45" font-size="12.3" text-anchor="middle" fill="#1a1a1a" >2</text>
<text x="411.7" y="399.2" font-size="12.3" text-anchor="middle" fill="#1a1a1a" >3</text>
<text x="411.7" y="368.95" font-size="12.3" text-anchor="middle" fill="#1a1a1a" >4</text>
<line x1="702.5" y1="349.5" x2="709" y2="349.5" stroke="#303030" stroke-width="1"/>
<line x1="702.5" y1="364.5" x2="709" y2="364.5" stroke="#303030" stroke-width="1"/>
<line x1="702.5" y1="379.5" x2="709" y2="379.5" stroke="#303030" stroke-width="1"/>
<line x1="702.5" y1="395.5" x2="709" y2="395.5" stroke="#303030" stroke-width="1"/>
<line x1="702.5" y1="410.5" x2="709" y2="410.5" stroke="#303030" stroke-width="1"/>
<line x1="702.5" y1="425.5" x2="709" y2="425.5" stroke="#303030" stroke-width="1"/>
<line x1="702.5" y1="440.5" x2="709" y2="440.5" stroke="#303030" stroke-width="1"/>
<line x1="702.5" y1="455.5" x2="709" y2="455.5" stroke="#303030" stroke-width="1"/>
<text x="713.5" y="368.95" font-size="12.3" text-anchor="start" fill="#1a1a1a" >70</text>
<text x="713.5" y="384.07" font-size="12.3" text-anchor="start" fill="#1a1a1a" >60</text>
<text x="713.5" y="399.2" font-size="12.3" text-anchor="start" fill="#1a1a1a" >50</text>
<text x="713.5" y="414.32" font-size="12.3" text-anchor="start" fill="#1a1a1a" >40</text>
<text x="713.5" y="429.45" font-size="12.3" text-anchor="start" fill="#1a1a1a" >30</text>
<text x="713.5" y="444.57" font-size="12.3" text-anchor="start" fill="#1a1a1a" >20</text>
<text x="713.5" y="459.7" font-size="12.3" text-anchor="start" fill="#1a1a1a" >10</text>
<text x="712.3" y="337.9" font-size="12" textLength="14.4" lengthAdjust="spacingAndGlyphs" fill="#1a1a1a">Eta</text>
<text x="709.46" y="348.6" font-size="14" fill="#1a1a1a" style="stroke-width:0.05px">[</text>
<text x="714.3" y="349.1" font-size="12" textLength="10.6" lengthAdjust="spacingAndGlyphs" fill="#1a1a1a">%</text>
<text x="724.89" y="348.6" font-size="14" fill="#1a1a1a" style="stroke-width:0.05px">]</text>
<text x="398.4" y="338" font-size="12" textLength="25.4" lengthAdjust="spacingAndGlyphs" fill="#1a1a1a">NPSH</text>
<text x="400.06" y="349.4" font-size="14" fill="#1a1a1a" style="stroke-width:0.05px">[</text>
<text x="404.8" y="349.6" font-size="12" textLength="9.6" lengthAdjust="spacingAndGlyphs" fill="#1a1a1a">m</text>
<text x="414.49" y="349.4" font-size="14" fill="#1a1a1a" style="stroke-width:0.05px">]</text>
<rect x="443.4" y="352" width="76.6" height="12.3" fill="#fff"/>
<text x="448.8" y="361.3" font-size="12" text-anchor="start" fill="#1a1a1a" >-200/9.2/11.0</text>
<rect x="426.8" y="367.5" width="44.5" height="27" fill="#fff"/>
<text x="430" y="377.5" font-size="12" text-anchor="start" fill="#1a1a1a" >-160/5.5</text>
<text x="430" y="391.3" font-size="12" text-anchor="start" fill="#1a1a1a" >-200/7.5</text>
<rect x="561" y="337.5" width="49" height="11.5" fill="#fff"/>
<text x="563" y="347" font-size="12" text-anchor="start" fill="#1a1a1a" >-200/15.0</text>
<rect x="580.3" y="353" width="14" height="9.6" fill="#fff"/>
<text x="581.3" y="361.8" font-size="12" textLength="12" lengthAdjust="spacingAndGlyphs" fill="#1a1a1a">Eta</text>
<rect x="652.5" y="381.3" width="48.8" height="13.2" fill="#fff"/>
<text x="653.8" y="391.8" font-size="12" text-anchor="start" fill="#1a1a1a" >-200/18.5</text>
<rect x="594.5" y="399" width="23" height="9" fill="#fff"/>
<text x="595.5" y="407.2" font-size="11.6" textLength="20.7" lengthAdjust="spacingAndGlyphs" fill="#1a1a1a">NPSH</text>
<line x1="520.5" y1="358.7" x2="526.7" y2="367.2" stroke="#111" stroke-width="0.9"/>
<polygon points="525.32,368.5 536.7,377.8 528.08,365.9" fill="#111"/>
<line x1="472.5" y1="384.5" x2="483.3" y2="386.4" stroke="#111" stroke-width="0.9"/>
<polygon points="482.82,388.24 496.7,389.9 483.78,384.56" fill="#111"/>
<line x1="616.6" y1="342.3" x2="621.6" y2="353.5" stroke="#111" stroke-width="0.9"/>
<polygon points="619.88,354.31 628,367 623.32,352.69" fill="#111"/>
<line x1="649.2" y1="387.5" x2="643.3" y2="382.3" stroke="#111" stroke-width="0.9"/>
<polygon points="644.64,380.96 634.2,373.2 641.96,383.64" fill="#111"/>
<path d="M446.2,454.61 C446.53,454.09 447.53,452.65 448.2,451.45 C448.87,450.25 449.53,448.8 450.2,447.39 C450.87,445.99 451.53,444.47 452.2,443 C452.87,441.54 453.53,440.04 454.2,438.59 C454.87,437.14 455.53,435.7 456.2,434.31 C456.87,432.93 457.53,431.57 458.2,430.27 C458.87,428.96 459.53,427.7 460.2,426.49 C460.87,425.27 461.53,424.1 462.2,422.98 C462.87,421.86 463.53,420.78 464.2,419.74 C464.87,418.71 465.53,417.72 466.2,416.76 C466.87,415.81 467.53,414.89 468.2,414.01 C468.87,413.13 469.53,412.29 470.2,411.48 C470.87,410.67 471.53,409.9 472.2,409.15 C472.87,408.4 473.53,407.69 474.2,406.99 C474.87,406.3 475.53,405.64 476.2,404.99 C476.87,404.35 477.53,403.74 478.2,403.14 C478.87,402.54 479.53,401.97 480.2,401.41 C480.87,400.85 481.53,400.32 482.2,399.8 C482.87,399.27 483.53,398.77 484.2,398.28 C484.87,397.79 485.53,397.32 486.2,396.86 C486.87,396.4 487.53,395.95 488.2,395.52 C488.87,395.08 489.53,394.66 490.2,394.25 C490.87,393.83 491.53,393.43 492.2,393.04 C492.87,392.65 493.53,392.27 494.2,391.89 C494.87,391.52 495.53,391.15 496.2,390.8 C496.87,390.44 497.53,390.09 498.2,389.75 C498.87,389.4 499.53,389.07 500.2,388.74 C500.87,388.41 501.53,388.09 502.2,387.77 C502.87,387.46 503.53,387.14 504.2,386.84 C504.87,386.53 505.53,386.23 506.2,385.94 C506.87,385.64 507.53,385.35 508.2,385.07 C508.87,384.78 509.53,384.5 510.2,384.22 C510.87,383.94 511.53,383.67 512.2,383.4 C512.87,383.13 513.53,382.86 514.2,382.6 C514.87,382.34 515.53,382.08 516.2,381.83 C516.87,381.57 517.53,381.32 518.2,381.07 C518.87,380.82 519.53,380.58 520.2,380.34 C520.87,380.09 521.53,379.86 522.2,379.62 C522.87,379.38 523.53,379.15 524.2,378.92 C524.87,378.69 525.53,378.46 526.2,378.24 C526.87,378.01 527.53,377.79 528.2,377.57 C528.87,377.35 529.53,377.13 530.2,376.92 C530.87,376.71 531.53,376.49 532.2,376.29 C532.87,376.08 533.53,375.87 534.2,375.67 C534.87,375.46 535.53,375.26 536.2,375.06 C536.87,374.86 537.53,374.67 538.2,374.47 C538.87,374.28 539.53,374.09 540.2,373.9 C540.87,373.71 541.53,373.52 542.2,373.34 C542.87,373.15 543.53,372.97 544.2,372.79 C544.87,372.61 545.53,372.44 546.2,372.26 C546.87,372.09 547.53,371.91 548.2,371.74 C548.87,371.58 549.53,371.41 550.2,371.24 C550.87,371.08 551.53,370.92 552.2,370.76 C552.87,370.6 553.53,370.44 554.2,370.28 C554.87,370.13 555.53,369.98 556.2,369.83 C556.87,369.68 557.53,369.53 558.2,369.39 C558.87,369.24 559.53,369.1 560.2,368.96 C560.87,368.82 561.53,368.68 562.2,368.55 C562.87,368.41 563.53,368.28 564.2,368.15 C564.87,368.02 565.53,367.89 566.2,367.77 C566.87,367.65 567.53,367.52 568.2,367.4 C568.87,367.29 569.53,367.17 570.2,367.06 C570.87,366.94 571.53,366.83 572.2,366.72 C572.87,366.61 573.53,366.51 574.2,366.41 C574.87,366.3 575.53,366.2 576.2,366.11 C576.87,366.01 577.53,365.91 578.2,365.82 C578.87,365.73 579.53,365.64 580.2,365.55 C580.87,365.47 581.53,365.38 582.2,365.3 C582.87,365.22 583.53,365.15 584.2,365.07 C584.87,365 585.53,364.92 586.2,364.85 C586.87,364.78 587.53,364.72 588.2,364.65 C588.87,364.59 589.53,364.53 590.2,364.47 C590.87,364.41 591.53,364.36 592.2,364.31 C592.87,364.26 593.53,364.21 594.2,364.16 C594.87,364.11 595.53,364.07 596.2,364.03 C596.87,363.99 597.53,363.95 598.2,363.92 C598.87,363.89 599.53,363.85 600.2,363.83 C600.87,363.8 601.53,363.77 602.2,363.75 C602.87,363.73 603.53,363.71 604.2,363.69 C604.87,363.68 605.53,363.66 606.2,363.65 C606.87,363.64 607.53,363.64 608.2,363.63 C608.87,363.63 609.53,363.63 610.2,363.63 C610.87,363.63 611.53,363.64 612.2,363.65 C612.87,363.66 613.53,363.67 614.2,363.68 C614.87,363.7 615.53,363.71 616.2,363.74 C616.87,363.76 617.53,363.78 618.2,363.81 C618.87,363.84 619.73,363.88 620.2,363.9 C620.67,363.92 620.87,363.93 621,363.94" fill="none" stroke="#111" stroke-width="1.75" stroke-linecap="butt" stroke-linejoin="round"/>
<path d="M447.4,454.75 C447.73,454.24 448.73,452.86 449.4,451.68 C450.07,450.5 450.73,449.07 451.4,447.68 C452.07,446.29 452.73,444.78 453.4,443.33 C454.07,441.87 454.73,440.38 455.4,438.94 C456.07,437.51 456.73,436.08 457.4,434.7 C458.07,433.33 458.73,431.98 459.4,430.69 C460.07,429.4 460.73,428.15 461.4,426.95 C462.07,425.75 462.73,424.6 463.4,423.5 C464.07,422.39 464.73,421.33 465.4,420.32 C466.07,419.3 466.73,418.33 467.4,417.4 C468.07,416.47 468.73,415.58 469.4,414.73 C470.07,413.87 470.73,413.06 471.4,412.28 C472.07,411.49 472.73,410.75 473.4,410.02 C474.07,409.3 474.73,408.62 475.4,407.95 C476.07,407.29 476.73,406.65 477.4,406.04 C478.07,405.43 478.73,404.84 479.4,404.27 C480.07,403.7 480.73,403.15 481.4,402.62 C482.07,402.09 482.73,401.58 483.4,401.09 C484.07,400.59 484.73,400.12 485.4,399.65 C486.07,399.19 486.73,398.74 487.4,398.3 C488.07,397.86 488.73,397.44 489.4,397.03 C490.07,396.62 490.73,396.21 491.4,395.82 C492.07,395.43 492.73,395.05 493.4,394.67 C494.07,394.3 494.73,393.94 495.4,393.58 C496.07,393.22 496.73,392.87 497.4,392.53 C498.07,392.19 498.73,391.86 499.4,391.53 C500.07,391.2 500.73,390.87 501.4,390.56 C502.07,390.24 502.73,389.93 503.4,389.62 C504.07,389.31 504.73,389.01 505.4,388.71 C506.07,388.41 506.73,388.12 507.4,387.83 C508.07,387.54 508.73,387.25 509.4,386.97 C510.07,386.69 510.73,386.41 511.4,386.14 C512.07,385.86 512.73,385.59 513.4,385.32 C514.07,385.05 514.73,384.79 515.4,384.53 C516.07,384.26 516.73,384 517.4,383.75 C518.07,383.49 518.73,383.24 519.4,382.98 C520.07,382.73 520.73,382.48 521.4,382.24 C522.07,381.99 522.73,381.75 523.4,381.51 C524.07,381.26 524.73,381.02 525.4,380.79 C526.07,380.55 526.73,380.32 527.4,380.08 C528.07,379.85 528.73,379.62 529.4,379.4 C530.07,379.17 530.73,378.94 531.4,378.72 C532.07,378.5 532.73,378.28 533.4,378.06 C534.07,377.84 534.73,377.62 535.4,377.41 C536.07,377.2 536.73,376.98 537.4,376.77 C538.07,376.57 538.73,376.36 539.4,376.15 C540.07,375.95 540.73,375.75 541.4,375.55 C542.07,375.35 542.73,375.15 543.4,374.95 C544.07,374.76 544.73,374.57 545.4,374.38 C546.07,374.19 546.73,374 547.4,373.81 C548.07,373.63 548.73,373.44 549.4,373.26 C550.07,373.08 550.73,372.9 551.4,372.73 C552.07,372.55 552.73,372.38 553.4,372.21 C554.07,372.04 554.73,371.87 555.4,371.71 C556.07,371.54 556.73,371.38 557.4,371.22 C558.07,371.06 558.73,370.91 559.4,370.75 C560.07,370.6 560.73,370.45 561.4,370.3 C562.07,370.15 562.73,370.01 563.4,369.86 C564.07,369.72 564.73,369.58 565.4,369.45 C566.07,369.31 566.73,369.18 567.4,369.05 C568.07,368.92 568.73,368.79 569.4,368.66 C570.07,368.54 570.73,368.42 571.4,368.3 C572.07,368.18 572.73,368.07 573.4,367.96 C574.07,367.84 574.73,367.74 575.4,367.63 C576.07,367.53 576.73,367.42 577.4,367.32 C578.07,367.23 578.73,367.13 579.4,367.04 C580.07,366.95 580.73,366.86 581.4,366.77 C582.07,366.69 582.73,366.61 583.4,366.53 C584.07,366.45 584.73,366.37 585.4,366.3 C586.07,366.23 586.73,366.16 587.4,366.1 C588.07,366.04 588.73,365.97 589.4,365.92 C590.07,365.86 590.73,365.81 591.4,365.76 C592.07,365.71 592.73,365.66 593.4,365.62 C594.07,365.58 594.73,365.54 595.4,365.5 C596.07,365.47 596.73,365.43 597.4,365.41 C598.07,365.38 598.73,365.35 599.4,365.33 C600.07,365.31 600.73,365.3 601.4,365.29 C602.07,365.27 602.73,365.26 603.4,365.26 C604.07,365.25 604.73,365.25 605.4,365.26 C606.07,365.26 606.73,365.27 607.4,365.28 C608.07,365.29 608.73,365.3 609.4,365.32 C610.07,365.34 610.73,365.36 611.4,365.39 C612.07,365.41 612.73,365.44 613.4,365.48 C614.07,365.51 614.73,365.55 615.4,365.59 C616.07,365.64 616.73,365.68 617.4,365.73 C618.07,365.79 618.8,365.85 619.4,365.9 C620,365.95 620.73,366.02 621,366.05" fill="none" stroke="#111" stroke-width="1.75" stroke-linecap="butt" stroke-linejoin="round"/>
<path d="M448.6,455.14 C448.93,454.54 449.93,452.83 450.6,451.56 C451.27,450.29 451.93,448.89 452.6,447.53 C453.27,446.17 453.93,444.76 454.6,443.4 C455.27,442.04 455.93,440.67 456.6,439.35 C457.27,438.03 457.93,436.74 458.6,435.49 C459.27,434.24 459.93,433.02 460.6,431.85 C461.27,430.68 461.93,429.56 462.6,428.47 C463.27,427.39 463.93,426.34 464.6,425.34 C465.27,424.34 465.93,423.37 466.6,422.45 C467.27,421.52 467.93,420.64 468.6,419.78 C469.27,418.93 469.93,418.11 470.6,417.32 C471.27,416.54 471.93,415.78 472.6,415.05 C473.27,414.33 473.93,413.63 474.6,412.95 C475.27,412.28 475.93,411.64 476.6,411.01 C477.27,410.38 477.93,409.78 478.6,409.2 C479.27,408.62 479.93,408.06 480.6,407.52 C481.27,406.97 481.93,406.45 482.6,405.94 C483.27,405.43 483.93,404.94 484.6,404.47 C485.27,403.99 485.93,403.53 486.6,403.08 C487.27,402.62 487.93,402.19 488.6,401.76 C489.27,401.34 489.93,400.92 490.6,400.52 C491.27,400.11 491.93,399.72 492.6,399.33 C493.27,398.95 493.93,398.57 494.6,398.21 C495.27,397.84 495.93,397.48 496.6,397.13 C497.27,396.77 497.93,396.43 498.6,396.09 C499.27,395.75 499.93,395.42 500.6,395.09 C501.27,394.76 501.93,394.44 502.6,394.13 C503.27,393.81 503.93,393.5 504.6,393.2 C505.27,392.89 505.93,392.59 506.6,392.3 C507.27,392 507.93,391.71 508.6,391.42 C509.27,391.13 509.93,390.85 510.6,390.57 C511.27,390.29 511.93,390.01 512.6,389.74 C513.27,389.47 513.93,389.2 514.6,388.93 C515.27,388.66 515.93,388.4 516.6,388.14 C517.27,387.88 517.93,387.62 518.6,387.37 C519.27,387.11 519.93,386.86 520.6,386.61 C521.27,386.36 521.93,386.11 522.6,385.87 C523.27,385.62 523.93,385.38 524.6,385.14 C525.27,384.9 525.93,384.67 526.6,384.43 C527.27,384.2 527.93,383.96 528.6,383.73 C529.27,383.5 529.93,383.27 530.6,383.05 C531.27,382.82 531.93,382.6 532.6,382.38 C533.27,382.15 533.93,381.93 534.6,381.72 C535.27,381.5 535.93,381.28 536.6,381.07 C537.27,380.86 537.93,380.65 538.6,380.44 C539.27,380.23 539.93,380.02 540.6,379.82 C541.27,379.61 541.93,379.41 542.6,379.21 C543.27,379.01 543.93,378.81 544.6,378.61 C545.27,378.41 545.93,378.22 546.6,378.03 C547.27,377.83 547.93,377.64 548.6,377.46 C549.27,377.27 549.93,377.08 550.6,376.9 C551.27,376.71 551.93,376.53 552.6,376.35 C553.27,376.17 553.93,376 554.6,375.82 C555.27,375.65 555.93,375.47 556.6,375.3 C557.27,375.13 557.93,374.96 558.6,374.8 C559.27,374.63 559.93,374.47 560.6,374.3 C561.27,374.14 561.93,373.98 562.6,373.83 C563.27,373.67 563.93,373.51 564.6,373.36 C565.27,373.21 565.93,373.06 566.6,372.91 C567.27,372.76 567.93,372.62 568.6,372.47 C569.27,372.33 569.93,372.19 570.6,372.05 C571.27,371.92 571.93,371.78 572.6,371.65 C573.27,371.51 573.93,371.38 574.6,371.26 C575.27,371.13 575.93,371 576.6,370.88 C577.27,370.76 577.93,370.64 578.6,370.52 C579.27,370.4 579.93,370.29 580.6,370.17 C581.27,370.06 581.93,369.95 582.6,369.84 C583.27,369.74 583.93,369.63 584.6,369.53 C585.27,369.43 585.93,369.33 586.6,369.23 C587.27,369.14 587.93,369.04 588.6,368.95 C589.27,368.86 589.93,368.77 590.6,368.69 C591.27,368.6 591.93,368.52 592.6,368.44 C593.27,368.36 593.93,368.28 594.6,368.21 C595.27,368.13 595.93,368.06 596.6,367.99 C597.27,367.92 597.93,367.86 598.6,367.8 C599.27,367.73 599.93,367.67 600.6,367.62 C601.27,367.56 601.93,367.51 602.6,367.45 C603.27,367.4 603.93,367.35 604.6,367.31 C605.27,367.26 605.93,367.22 606.6,367.18 C607.27,367.14 607.93,367.11 608.6,367.07 C609.27,367.04 609.93,367.01 610.6,366.98 C611.27,366.96 611.93,366.93 612.6,366.91 C613.27,366.89 613.93,366.87 614.6,366.86 C615.27,366.84 615.93,366.83 616.6,366.82 C617.27,366.81 617.93,366.81 618.6,366.8 C619.27,366.8 619.93,366.8 620.6,366.81 C621.27,366.81 621.93,366.82 622.6,366.83 C623.27,366.84 623.93,366.85 624.6,366.86 C625.27,366.88 625.93,366.9 626.6,366.92 C627.27,366.94 627.93,366.97 628.6,367 C629.27,367.03 629.93,367.06 630.6,367.09 C631.27,367.13 631.93,367.17 632.6,367.21 C633.27,367.25 633.93,367.3 634.6,367.34 C635.27,367.39 635.93,367.44 636.6,367.5 C637.27,367.55 637.93,367.61 638.6,367.67 C639.27,367.73 639.93,367.79 640.6,367.86 C641.27,367.93 641.93,368 642.6,368.07 C643.27,368.15 643.93,368.22 644.6,368.3 C645.27,368.39 645.93,368.47 646.6,368.56 C647.27,368.64 647.93,368.73 648.6,368.83 C649.27,368.92 649.93,369.02 650.6,369.12 C651.27,369.22 652.12,369.35 652.6,369.43 C653.08,369.5 653.35,369.55 653.5,369.57" fill="none" stroke="#111" stroke-width="1.75" stroke-linecap="butt" stroke-linejoin="round"/>
<path d="M449.8,455.51 C450.13,454.83 451.13,452.84 451.8,451.48 C452.47,450.12 453.13,448.71 453.8,447.35 C454.47,445.98 455.13,444.62 455.8,443.31 C456.47,441.99 457.13,440.7 457.8,439.46 C458.47,438.22 459.13,437.01 459.8,435.85 C460.47,434.69 461.13,433.58 461.8,432.5 C462.47,431.43 463.13,430.4 463.8,429.42 C464.47,428.43 465.13,427.48 465.8,426.57 C466.47,425.67 467.13,424.8 467.8,423.96 C468.47,423.13 469.13,422.34 469.8,421.57 C470.47,420.8 471.13,420.07 471.8,419.37 C472.47,418.67 473.13,418 473.8,417.35 C474.47,416.7 475.13,416.08 475.8,415.49 C476.47,414.89 477.13,414.32 477.8,413.77 C478.47,413.21 479.13,412.68 479.8,412.17 C480.47,411.66 481.13,411.17 481.8,410.7 C482.47,410.22 483.13,409.76 483.8,409.32 C484.47,408.88 485.13,408.45 485.8,408.03 C486.47,407.62 487.13,407.22 487.8,406.83 C488.47,406.44 489.13,406.06 489.8,405.7 C490.47,405.33 491.13,404.98 491.8,404.63 C492.47,404.28 493.13,403.95 493.8,403.62 C494.47,403.29 495.13,402.97 495.8,402.66 C496.47,402.34 497.13,402.04 497.8,401.74 C498.47,401.44 499.13,401.15 499.8,400.87 C500.47,400.58 501.13,400.3 501.8,400.03 C502.47,399.75 503.13,399.48 503.8,399.22 C504.47,398.96 505.13,398.7 505.8,398.44 C506.47,398.19 507.13,397.94 507.8,397.69 C508.47,397.44 509.13,397.2 509.8,396.96 C510.47,396.72 511.13,396.49 511.8,396.26 C512.47,396.02 513.13,395.79 513.8,395.57 C514.47,395.34 515.13,395.12 515.8,394.9 C516.47,394.68 517.13,394.46 517.8,394.24 C518.47,394.03 519.13,393.81 519.8,393.6 C520.47,393.39 521.13,393.18 521.8,392.98 C522.47,392.77 523.13,392.56 523.8,392.36 C524.47,392.16 525.13,391.96 525.8,391.76 C526.47,391.56 527.13,391.36 527.8,391.17 C528.47,390.97 529.13,390.78 529.8,390.59 C530.47,390.39 531.13,390.2 531.8,390.01 C532.47,389.82 533.13,389.64 533.8,389.45 C534.47,389.27 535.13,389.08 535.8,388.9 C536.47,388.71 537.13,388.53 537.8,388.35 C538.47,388.17 539.13,387.99 539.8,387.82 C540.47,387.64 541.13,387.46 541.8,387.29 C542.47,387.11 543.13,386.94 543.8,386.77 C544.47,386.6 545.13,386.43 545.8,386.26 C546.47,386.09 547.13,385.92 547.8,385.75 C548.47,385.59 549.13,385.42 549.8,385.26 C550.47,385.09 551.13,384.93 551.8,384.77 C552.47,384.61 553.13,384.45 553.8,384.29 C554.47,384.13 555.13,383.97 555.8,383.81 C556.47,383.66 557.13,383.5 557.8,383.35 C558.47,383.2 559.13,383.04 559.8,382.89 C560.47,382.74 561.13,382.59 561.8,382.45 C562.47,382.3 563.13,382.15 563.8,382.01 C564.47,381.86 565.13,381.72 565.8,381.58 C566.47,381.43 567.13,381.29 567.8,381.15 C568.47,381.01 569.13,380.88 569.8,380.74 C570.47,380.6 571.13,380.47 571.8,380.33 C572.47,380.2 573.13,380.07 573.8,379.94 C574.47,379.81 575.13,379.68 575.8,379.55 C576.47,379.42 577.13,379.3 577.8,379.17 C578.47,379.05 579.13,378.93 579.8,378.8 C580.47,378.68 581.13,378.56 581.8,378.45 C582.47,378.33 583.13,378.21 583.8,378.1 C584.47,377.98 585.13,377.87 585.8,377.76 C586.47,377.64 587.13,377.54 587.8,377.43 C588.47,377.32 589.13,377.21 589.8,377.11 C590.47,377 591.13,376.9 591.8,376.8 C592.47,376.7 593.13,376.6 593.8,376.5 C594.47,376.4 595.13,376.31 595.8,376.21 C596.47,376.12 597.13,376.02 597.8,375.93 C598.47,375.84 599.13,375.75 599.8,375.67 C600.47,375.58 601.13,375.5 601.8,375.41 C602.47,375.33 603.13,375.25 603.8,375.17 C604.47,375.09 605.13,375.01 605.8,374.93 C606.47,374.86 607.13,374.78 607.8,374.71 C608.47,374.64 609.13,374.57 609.8,374.5 C610.47,374.43 611.13,374.37 611.8,374.3 C612.47,374.24 613.13,374.17 613.8,374.11 C614.47,374.05 615.13,373.99 615.8,373.94 C616.47,373.88 617.13,373.83 617.8,373.77 C618.47,373.72 619.13,373.67 619.8,373.62 C620.47,373.57 621.13,373.53 621.8,373.48 C622.47,373.44 623.13,373.39 623.8,373.35 C624.47,373.31 625.13,373.27 625.8,373.24 C626.47,373.2 627.13,373.17 627.8,373.13 C628.47,373.1 629.13,373.07 629.8,373.04 C630.47,373.01 631.13,372.99 631.8,372.96 C632.47,372.94 633.13,372.92 633.8,372.9 C634.47,372.88 635.13,372.86 635.8,372.84 C636.47,372.83 637.13,372.82 637.8,372.8 C638.47,372.79 639.13,372.78 639.8,372.78 C640.47,372.77 641.13,372.76 641.8,372.76 C642.47,372.76 643.13,372.76 643.8,372.76 C644.47,372.76 645.13,372.76 645.8,372.77 C646.47,372.78 647.13,372.78 647.8,372.79 C648.47,372.8 649.13,372.82 649.8,372.83 C650.47,372.85 651.18,372.86 651.8,372.88 C652.42,372.9 653.22,372.92 653.5,372.93" fill="none" stroke="#111" stroke-width="1.75" stroke-linecap="butt" stroke-linejoin="round"/>
<path d="M442.35,425.05 C443.02,425.06 445.02,425.09 446.35,425.08 C447.68,425.08 449.02,425.06 450.35,425.04 C451.68,425.01 453.02,424.97 454.35,424.92 C455.68,424.87 457.02,424.81 458.35,424.75 C459.68,424.68 461.02,424.61 462.35,424.53 C463.68,424.45 465.02,424.36 466.35,424.26 C467.68,424.17 469.02,424.07 470.35,423.96 C471.68,423.86 473.02,423.75 474.35,423.64 C475.68,423.52 477.02,423.41 478.35,423.29 C479.68,423.16 481.02,423.04 482.35,422.91 C483.68,422.78 485.02,422.65 486.35,422.52 C487.68,422.39 489.02,422.25 490.35,422.11 C491.68,421.97 493.02,421.83 494.35,421.68 C495.68,421.53 497.02,421.38 498.35,421.23 C499.68,421.08 501.02,420.92 502.35,420.77 C503.68,420.61 505.02,420.44 506.35,420.28 C507.68,420.11 509.02,419.94 510.35,419.77 C511.68,419.59 513.02,419.41 514.35,419.23 C515.68,419.04 517.02,418.85 518.35,418.66 C519.68,418.46 521.02,418.26 522.35,418.05 C523.68,417.84 525.02,417.63 526.35,417.4 C527.68,417.18 529.02,416.95 530.35,416.71 C531.68,416.48 533.02,416.23 534.35,415.97 C535.68,415.72 537.02,415.45 538.35,415.18 C539.68,414.9 541.02,414.62 542.35,414.32 C543.68,414.03 545.02,413.72 546.35,413.4 C547.68,413.08 549.02,412.75 550.35,412.4 C551.68,412.06 553.02,411.7 554.35,411.33 C555.68,410.96 557.02,410.57 558.35,410.17 C559.68,409.77 561.02,409.35 562.35,408.92 C563.68,408.49 565.02,408.04 566.35,407.58 C567.68,407.11 569.02,406.63 570.35,406.13 C571.68,405.63 573.02,405.12 574.35,404.58 C575.68,404.05 577.02,403.49 578.35,402.92 C579.68,402.35 581.02,401.76 582.35,401.15 C583.68,400.54 585.02,399.91 586.35,399.26 C587.68,398.61 589.02,397.94 590.35,397.25 C591.68,396.56 593.02,395.85 594.35,395.11 C595.68,394.38 597.02,393.63 598.35,392.86 C599.68,392.08 601.02,391.29 602.35,390.47 C603.68,389.66 605.02,388.82 606.35,387.96 C607.68,387.11 609.02,386.23 610.35,385.33 C611.68,384.43 613.02,383.51 614.35,382.57 C615.68,381.63 617.02,380.67 618.35,379.69 C619.68,378.71 621.02,377.71 622.35,376.69 C623.68,375.68 625.02,374.64 626.35,373.58 C627.68,372.53 629.02,371.46 630.35,370.37 C631.68,369.28 633.02,368.17 634.35,367.05 C635.68,365.93 637.02,364.79 638.35,363.64 C639.68,362.49 641.02,361.32 642.35,360.15 C643.68,358.97 645.02,357.78 646.35,356.58 C647.68,355.39 649.16,354.05 650.35,352.96 C651.54,351.88 652.98,350.56 653.5,350.08" fill="none" stroke="#111" stroke-width="1.7" stroke-linecap="butt" stroke-linejoin="round"/>
<line x1="77.5" y1="493.75" x2="77.5" y2="646.65" stroke="#303030" stroke-width="1"/>
<line x1="93.5" y1="493.75" x2="93.5" y2="642.95" stroke="#303030" stroke-width="1"/>
<line x1="109.5" y1="493.75" x2="109.5" y2="646.65" stroke="#303030" stroke-width="1"/>
<line x1="125.5" y1="493.75" x2="125.5" y2="642.95" stroke="#303030" stroke-width="1"/>
<line x1="142.5" y1="493.75" x2="142.5" y2="646.65" stroke="#303030" stroke-width="1"/>
<line x1="158.5" y1="493.75" x2="158.5" y2="642.95" stroke="#303030" stroke-width="1"/>
<line x1="174.5" y1="493.75" x2="174.5" y2="646.65" stroke="#303030" stroke-width="1"/>
<line x1="190.5" y1="493.75" x2="190.5" y2="642.95" stroke="#303030" stroke-width="1"/>
<line x1="206.5" y1="493.75" x2="206.5" y2="646.65" stroke="#303030" stroke-width="1"/>
<line x1="223.5" y1="493.75" x2="223.5" y2="642.95" stroke="#303030" stroke-width="1"/>
<line x1="239.5" y1="493.75" x2="239.5" y2="646.65" stroke="#303030" stroke-width="1"/>
<line x1="255.5" y1="493.75" x2="255.5" y2="642.95" stroke="#303030" stroke-width="1"/>
<line x1="271.5" y1="493.75" x2="271.5" y2="646.65" stroke="#303030" stroke-width="1"/>
<line x1="287.5" y1="493.75" x2="287.5" y2="642.95" stroke="#303030" stroke-width="1"/>
<line x1="304.5" y1="493.75" x2="304.5" y2="646.65" stroke="#303030" stroke-width="1"/>
<line x1="320.5" y1="493.75" x2="320.5" y2="642.95" stroke="#303030" stroke-width="1"/>
<line x1="336.5" y1="493.75" x2="336.5" y2="646.65" stroke="#303030" stroke-width="1"/>
<line x1="352.5" y1="493.75" x2="352.5" y2="642.95" stroke="#303030" stroke-width="1"/>
<line x1="76.75" y1="494.5" x2="353.25" y2="494.5" stroke="#303030" stroke-width="1"/>
<line x1="76.75" y1="523.5" x2="353.25" y2="523.5" stroke="#303030" stroke-width="1"/>
<line x1="76.75" y1="552.5" x2="353.25" y2="552.5" stroke="#303030" stroke-width="1"/>
<line x1="76.75" y1="581.5" x2="353.25" y2="581.5" stroke="#303030" stroke-width="1"/>
<line x1="76.75" y1="610.5" x2="353.25" y2="610.5" stroke="#303030" stroke-width="1"/>
<line x1="76.75" y1="639.5" x2="353.25" y2="639.5" stroke="#303030" stroke-width="1"/>
<text x="77.25" y="657.55" font-size="12.3" text-anchor="middle" fill="#1a1a1a" >0</text>
<text x="109.66" y="657.55" font-size="12.3" text-anchor="middle" fill="#1a1a1a" >10</text>
<text x="142.07" y="657.55" font-size="12.3" text-anchor="middle" fill="#1a1a1a" >20</text>
<text x="174.49" y="657.55" font-size="12.3" text-anchor="middle" fill="#1a1a1a" >30</text>
<text x="206.9" y="657.55" font-size="12.3" text-anchor="middle" fill="#1a1a1a" >40</text>
<text x="239.31" y="657.55" font-size="12.3" text-anchor="middle" fill="#1a1a1a" >50</text>
<text x="271.72" y="657.55" font-size="12.3" text-anchor="middle" fill="#1a1a1a" >60</text>
<text x="304.13" y="657.55" font-size="12.3" text-anchor="middle" fill="#1a1a1a" >70</text>
<text x="312.15" y="658.65" font-size="12.3" text-anchor="start" fill="#1a1a1a" >Q</text>
<text x="322.41" y="657.85" font-size="14" fill="#1a1a1a" style="stroke-width:0.05px">[</text>
<text x="326.95" y="658.15" font-size="12" textLength="21.8" lengthAdjust="spacingAndGlyphs" fill="#1a1a1a">m<tspan font-size="7" dy="-4">3</tspan><tspan dy="4">/h</tspan></text>
<text x="349.04" y="657.85" font-size="14" fill="#1a1a1a" style="stroke-width:0.05px">]</text>
<line x1="69.75" y1="639.5" x2="77.25" y2="639.5" stroke="#303030" stroke-width="1"/>
<line x1="69.75" y1="610.5" x2="77.25" y2="610.5" stroke="#303030" stroke-width="1"/>
<line x1="69.75" y1="581.5" x2="77.25" y2="581.5" stroke="#303030" stroke-width="1"/>
<line x1="69.75" y1="552.5" x2="77.25" y2="552.5" stroke="#303030" stroke-width="1"/>
<line x1="69.75" y1="523.5" x2="77.25" y2="523.5" stroke="#303030" stroke-width="1"/>
<line x1="73.25" y1="624.5" x2="77.25" y2="624.5" stroke="#303030" stroke-width="1"/>
<line x1="73.25" y1="595.5" x2="77.25" y2="595.5" stroke="#303030" stroke-width="1"/>
<line x1="73.25" y1="566.5" x2="77.25" y2="566.5" stroke="#303030" stroke-width="1"/>
<line x1="73.25" y1="537.5" x2="77.25" y2="537.5" stroke="#303030" stroke-width="1"/>
<line x1="73.25" y1="508.5" x2="77.25" y2="508.5" stroke="#303030" stroke-width="1"/>
<text x="62.35" y="643.45" font-size="12.3" text-anchor="middle" fill="#1a1a1a" >0</text>
<text x="62.35" y="614.45" font-size="12.3" text-anchor="middle" fill="#1a1a1a" >1</text>
<text x="62.35" y="585.45" font-size="12.3" text-anchor="middle" fill="#1a1a1a" >2</text>
<text x="62.35" y="556.45" font-size="12.3" text-anchor="middle" fill="#1a1a1a" >3</text>
<text x="62.35" y="527.45" font-size="12.3" text-anchor="middle" fill="#1a1a1a" >4</text>
<text x="62.9" y="493" font-size="12" text-anchor="middle" fill="#1a1a1a" >P2</text>
<text x="50.56" y="505" font-size="14" fill="#1a1a1a" style="stroke-width:0.05px">[</text>
<text x="55.3" y="505.2" font-size="12" textLength="13.2" lengthAdjust="spacingAndGlyphs" fill="#1a1a1a">kW</text>
<text x="68.59" y="505" font-size="14" fill="#1a1a1a" style="stroke-width:0.05px">]</text>
<rect x="272" y="524" width="48" height="14" fill="#fff"/>
<text x="274.5" y="535.8" font-size="12" text-anchor="start" fill="#1a1a1a" >-125/4.0</text>
<rect x="272" y="553" width="48" height="14.2" fill="#fff"/>
<text x="274.5" y="564.4" font-size="12" text-anchor="start" fill="#1a1a1a" >-125/3.0</text>
<line x1="76.75" y1="665.8" x2="353.05" y2="665.8" stroke="#303030" stroke-width="1.3"/>
<line x1="77.5" y1="665.8" x2="77.5" y2="673.4" stroke="#303030" stroke-width="1"/>
<text x="77.25" y="685.4" font-size="12.3" text-anchor="middle" fill="#1a1a1a" >0</text>
<line x1="100.5" y1="665.8" x2="100.5" y2="673.4" stroke="#303030" stroke-width="1"/>
<text x="100.5" y="685.4" font-size="12.3" text-anchor="middle" fill="#1a1a1a" >2</text>
<line x1="123.5" y1="665.8" x2="123.5" y2="673.4" stroke="#303030" stroke-width="1"/>
<text x="123.75" y="685.4" font-size="12.3" text-anchor="middle" fill="#1a1a1a" >4</text>
<line x1="147.5" y1="665.8" x2="147.5" y2="673.4" stroke="#303030" stroke-width="1"/>
<text x="147" y="685.4" font-size="12.3" text-anchor="middle" fill="#1a1a1a" >6</text>
<line x1="170.5" y1="665.8" x2="170.5" y2="673.4" stroke="#303030" stroke-width="1"/>
<text x="170.25" y="685.4" font-size="12.3" text-anchor="middle" fill="#1a1a1a" >8</text>
<line x1="193.5" y1="665.8" x2="193.5" y2="673.4" stroke="#303030" stroke-width="1"/>
<text x="193.5" y="685.4" font-size="12.3" text-anchor="middle" fill="#1a1a1a" >10</text>
<line x1="216.5" y1="665.8" x2="216.5" y2="673.4" stroke="#303030" stroke-width="1"/>
<text x="216.75" y="685.4" font-size="12.3" text-anchor="middle" fill="#1a1a1a" >12</text>
<line x1="240.5" y1="665.8" x2="240.5" y2="673.4" stroke="#303030" stroke-width="1"/>
<text x="240" y="685.4" font-size="12.3" text-anchor="middle" fill="#1a1a1a" >14</text>
<line x1="263.5" y1="665.8" x2="263.5" y2="673.4" stroke="#303030" stroke-width="1"/>
<text x="263.25" y="685.4" font-size="12.3" text-anchor="middle" fill="#1a1a1a" >16</text>
<line x1="286.5" y1="665.8" x2="286.5" y2="673.4" stroke="#303030" stroke-width="1"/>
<text x="286.5" y="685.4" font-size="12.3" text-anchor="middle" fill="#1a1a1a" >18</text>
<line x1="309.5" y1="665.8" x2="309.5" y2="673.4" stroke="#303030" stroke-width="1"/>
<text x="309.75" y="685.4" font-size="12.3" text-anchor="middle" fill="#1a1a1a" >20</text>
<line x1="333.5" y1="665.8" x2="333.5" y2="673.4" stroke="#303030" stroke-width="1"/>
<text x="320.75" y="686" font-size="12.3" text-anchor="start" fill="#1a1a1a" >Q</text>
<text x="330.91" y="685.4" font-size="14" fill="#1a1a1a" style="stroke-width:0.05px">[</text>
<text x="335.55" y="685.6" font-size="12" textLength="13.6" lengthAdjust="spacingAndGlyphs" fill="#1a1a1a">l/s</text>
<text x="349.04" y="685.4" font-size="14" fill="#1a1a1a" style="stroke-width:0.05px">]</text>
<path d="M93.46,604.43 C94.81,603.49 98.86,600.66 101.56,598.84 C104.26,597.02 106.96,595.24 109.66,593.51 C112.36,591.77 115.06,590.08 117.76,588.43 C120.47,586.78 123.17,585.16 125.87,583.59 C128.57,582.02 131.27,580.48 133.97,578.98 C136.67,577.48 139.37,576.02 142.07,574.6 C144.77,573.17 147.48,571.78 150.18,570.42 C152.88,569.06 155.58,567.73 158.28,566.44 C160.98,565.14 163.68,563.88 166.38,562.65 C169.08,561.42 171.78,560.21 174.49,559.04 C177.19,557.86 179.89,556.72 182.59,555.6 C185.29,554.47 187.99,553.38 190.69,552.31 C193.39,551.24 196.09,550.2 198.79,549.17 C201.5,548.15 204.2,547.15 206.9,546.17 C209.6,545.19 212.3,544.24 215,543.3 C217.7,542.36 220.4,541.44 223.1,540.54 C225.8,539.64 228.5,538.75 231.21,537.89 C233.91,537.02 236.61,536.17 239.31,535.33 C242.01,534.49 244.71,533.67 247.41,532.86 C250.11,532.05 252.81,531.25 255.51,530.46 C258.22,529.67 260.92,528.9 263.62,528.13 C266.32,527.36 270.37,526.23 271.72,525.85" fill="none" stroke="#111" stroke-width="1.7" stroke-linecap="butt" stroke-linejoin="round"/>
<path d="M93.46,612.8 C94.81,612.01 98.86,609.61 101.56,608.08 C104.26,606.55 106.96,605.06 109.66,603.6 C112.36,602.15 115.06,600.73 117.76,599.35 C120.47,597.97 123.17,596.63 125.87,595.32 C128.57,594.02 131.27,592.75 133.97,591.52 C136.67,590.28 139.37,589.08 142.07,587.92 C144.77,586.75 147.48,585.62 150.18,584.52 C152.88,583.43 155.58,582.36 158.28,581.33 C160.98,580.3 163.68,579.3 166.38,578.33 C169.08,577.36 171.78,576.42 174.49,575.51 C177.19,574.61 179.89,573.73 182.59,572.88 C185.29,572.03 187.99,571.21 190.69,570.42 C193.39,569.63 196.09,568.87 198.79,568.13 C201.5,567.4 204.2,566.69 206.9,566 C209.6,565.32 212.3,564.67 215,564.03 C217.7,563.4 220.4,562.8 223.1,562.21 C225.8,561.63 228.5,561.07 231.21,560.54 C233.91,560 236.61,559.49 239.31,559 C242.01,558.51 244.71,558.04 247.41,557.59 C250.11,557.14 252.81,556.72 255.51,556.31 C258.22,555.9 260.92,555.52 263.62,555.15 C266.32,554.78 270.37,554.28 271.72,554.1" fill="none" stroke="#111" stroke-width="1.7" stroke-linecap="butt" stroke-linejoin="round"/>
<line x1="426.5" y1="493.75" x2="426.5" y2="646.65" stroke="#303030" stroke-width="1"/>
<line x1="442.5" y1="493.75" x2="442.5" y2="642.95" stroke="#303030" stroke-width="1"/>
<line x1="458.5" y1="493.75" x2="458.5" y2="646.65" stroke="#303030" stroke-width="1"/>
<line x1="474.5" y1="493.75" x2="474.5" y2="642.95" stroke="#303030" stroke-width="1"/>
<line x1="491.5" y1="493.75" x2="491.5" y2="646.65" stroke="#303030" stroke-width="1"/>
<line x1="507.5" y1="493.75" x2="507.5" y2="642.95" stroke="#303030" stroke-width="1"/>
<line x1="523.5" y1="493.75" x2="523.5" y2="646.65" stroke="#303030" stroke-width="1"/>
<line x1="539.5" y1="493.75" x2="539.5" y2="642.95" stroke="#303030" stroke-width="1"/>
<line x1="556.5" y1="493.75" x2="556.5" y2="646.65" stroke="#303030" stroke-width="1"/>
<line x1="572.5" y1="493.75" x2="572.5" y2="642.95" stroke="#303030" stroke-width="1"/>
<line x1="588.5" y1="493.75" x2="588.5" y2="646.65" stroke="#303030" stroke-width="1"/>
<line x1="604.5" y1="493.75" x2="604.5" y2="642.95" stroke="#303030" stroke-width="1"/>
<line x1="621.5" y1="493.75" x2="621.5" y2="646.65" stroke="#303030" stroke-width="1"/>
<line x1="637.5" y1="493.75" x2="637.5" y2="642.95" stroke="#303030" stroke-width="1"/>
<line x1="653.5" y1="493.75" x2="653.5" y2="646.65" stroke="#303030" stroke-width="1"/>
<line x1="669.5" y1="493.75" x2="669.5" y2="642.95" stroke="#303030" stroke-width="1"/>
<line x1="686.5" y1="493.75" x2="686.5" y2="646.65" stroke="#303030" stroke-width="1"/>
<line x1="702.5" y1="493.75" x2="702.5" y2="642.95" stroke="#303030" stroke-width="1"/>
<line x1="425.5" y1="494.5" x2="703" y2="494.5" stroke="#303030" stroke-width="1"/>
<line x1="425.5" y1="508.5" x2="703" y2="508.5" stroke="#303030" stroke-width="1"/>
<line x1="425.5" y1="523.5" x2="703" y2="523.5" stroke="#303030" stroke-width="1"/>
<line x1="425.5" y1="537.5" x2="703" y2="537.5" stroke="#303030" stroke-width="1"/>
<line x1="425.5" y1="552.5" x2="703" y2="552.5" stroke="#303030" stroke-width="1"/>
<line x1="425.5" y1="566.5" x2="703" y2="566.5" stroke="#303030" stroke-width="1"/>
<line x1="425.5" y1="581.5" x2="703" y2="581.5" stroke="#303030" stroke-width="1"/>
<line x1="425.5" y1="595.5" x2="703" y2="595.5" stroke="#303030" stroke-width="1"/>
<line x1="425.5" y1="610.5" x2="703" y2="610.5" stroke="#303030" stroke-width="1"/>
<line x1="425.5" y1="624.5" x2="703" y2="624.5" stroke="#303030" stroke-width="1"/>
<line x1="425.5" y1="639.5" x2="703" y2="639.5" stroke="#303030" stroke-width="1"/>
<text x="426" y="657.55" font-size="12.3" text-anchor="middle" fill="#1a1a1a" >0</text>
<text x="458.53" y="657.55" font-size="12.3" text-anchor="middle" fill="#1a1a1a" >10</text>
<text x="491.06" y="657.55" font-size="12.3" text-anchor="middle" fill="#1a1a1a" >20</text>
<text x="523.59" y="657.55" font-size="12.3" text-anchor="middle" fill="#1a1a1a" >30</text>
<text x="556.12" y="657.55" font-size="12.3" text-anchor="middle" fill="#1a1a1a" >40</text>
<text x="588.65" y="657.55" font-size="12.3" text-anchor="middle" fill="#1a1a1a" >50</text>
<text x="621.18" y="657.55" font-size="12.3" text-anchor="middle" fill="#1a1a1a" >60</text>
<text x="653.71" y="657.55" font-size="12.3" text-anchor="middle" fill="#1a1a1a" >70</text>
<text x="661.9" y="658.65" font-size="12.3" text-anchor="start" fill="#1a1a1a" >Q</text>
<text x="672.16" y="657.85" font-size="14" fill="#1a1a1a" style="stroke-width:0.05px">[</text>
<text x="676.7" y="658.15" font-size="12" textLength="21.8" lengthAdjust="spacingAndGlyphs" fill="#1a1a1a">m<tspan font-size="7" dy="-4">3</tspan><tspan dy="4">/h</tspan></text>
<text x="698.79" y="657.85" font-size="14" fill="#1a1a1a" style="stroke-width:0.05px">]</text>
<line x1="419" y1="639.5" x2="426" y2="639.5" stroke="#303030" stroke-width="1"/>
<line x1="419" y1="624.5" x2="426" y2="624.5" stroke="#303030" stroke-width="1"/>
<line x1="419" y1="610.5" x2="426" y2="610.5" stroke="#303030" stroke-width="1"/>
<line x1="419" y1="595.5" x2="426" y2="595.5" stroke="#303030" stroke-width="1"/>
<line x1="419" y1="581.5" x2="426" y2="581.5" stroke="#303030" stroke-width="1"/>
<line x1="419" y1="566.5" x2="426" y2="566.5" stroke="#303030" stroke-width="1"/>
<line x1="419" y1="552.5" x2="426" y2="552.5" stroke="#303030" stroke-width="1"/>
<line x1="419" y1="537.5" x2="426" y2="537.5" stroke="#303030" stroke-width="1"/>
<line x1="419" y1="523.5" x2="426" y2="523.5" stroke="#303030" stroke-width="1"/>
<line x1="419" y1="508.5" x2="426" y2="508.5" stroke="#303030" stroke-width="1"/>
<text x="411.7" y="643.45" font-size="12.3" text-anchor="middle" fill="#1a1a1a" >0</text>
<text x="411.7" y="628.95" font-size="12.3" text-anchor="middle" fill="#1a1a1a" >2</text>
<text x="411.7" y="614.45" font-size="12.3" text-anchor="middle" fill="#1a1a1a" >4</text>
<text x="411.7" y="599.95" font-size="12.3" text-anchor="middle" fill="#1a1a1a" >6</text>
<text x="411.7" y="585.45" font-size="12.3" text-anchor="middle" fill="#1a1a1a" >8</text>
<text x="411.7" y="570.95" font-size="12.3" text-anchor="middle" fill="#1a1a1a" >10</text>
<text x="411.7" y="556.45" font-size="12.3" text-anchor="middle" fill="#1a1a1a" >12</text>
<text x="411.7" y="541.95" font-size="12.3" text-anchor="middle" fill="#1a1a1a" >14</text>
<text x="411.7" y="527.45" font-size="12.3" text-anchor="middle" fill="#1a1a1a" >16</text>
<text x="411.6" y="493" font-size="12" text-anchor="middle" fill="#1a1a1a" >P2</text>
<text x="399.26" y="505" font-size="14" fill="#1a1a1a" style="stroke-width:0.05px">[</text>
<text x="404" y="505.2" font-size="12" textLength="13.2" lengthAdjust="spacingAndGlyphs" fill="#1a1a1a">kW</text>
<text x="417.29" y="505" font-size="14" fill="#1a1a1a" style="stroke-width:0.05px">]</text>
<rect x="647" y="506" width="55" height="14.1" fill="#fff"/>
<text x="648.6" y="516.2" font-size="12" text-anchor="start" fill="#1a1a1a" >-200/18.5</text>
<rect x="645" y="529.7" width="57" height="13.5" fill="#fff"/>
<text x="648.3" y="541.3" font-size="12" text-anchor="start" fill="#1a1a1a" >-200/15.0</text>
<rect x="622" y="553" width="64" height="13" fill="#fff"/>
<text x="626.3" y="564.4" font-size="12" text-anchor="start" fill="#1a1a1a" >-200/11.0</text>
<rect x="622" y="567" width="64" height="14" fill="#fff"/>
<text x="626.3" y="578.7" font-size="12" text-anchor="start" fill="#1a1a1a" >-200/9.2</text>
<rect x="622" y="582" width="64" height="13" fill="#fff"/>
<text x="626.3" y="593" font-size="12" text-anchor="start" fill="#1a1a1a" >-200/7.5</text>
<rect x="622" y="596" width="64" height="14" fill="#fff"/>
<text x="626.3" y="606.9" font-size="12" text-anchor="start" fill="#1a1a1a" >-160/5.5</text>
<line x1="425.5" y1="665.8" x2="702.8" y2="665.8" stroke="#303030" stroke-width="1.3"/>
<line x1="426.5" y1="665.8" x2="426.5" y2="673.4" stroke="#303030" stroke-width="1"/>
<text x="426" y="685.4" font-size="12.3" text-anchor="middle" fill="#1a1a1a" >0</text>
<line x1="449.5" y1="665.8" x2="449.5" y2="673.4" stroke="#303030" stroke-width="1"/>
<text x="449.36" y="685.4" font-size="12.3" text-anchor="middle" fill="#1a1a1a" >2</text>
<line x1="472.5" y1="665.8" x2="472.5" y2="673.4" stroke="#303030" stroke-width="1"/>
<text x="472.72" y="685.4" font-size="12.3" text-anchor="middle" fill="#1a1a1a" >4</text>
<line x1="496.5" y1="665.8" x2="496.5" y2="673.4" stroke="#303030" stroke-width="1"/>
<text x="496.08" y="685.4" font-size="12.3" text-anchor="middle" fill="#1a1a1a" >6</text>
<line x1="519.5" y1="665.8" x2="519.5" y2="673.4" stroke="#303030" stroke-width="1"/>
<text x="519.44" y="685.4" font-size="12.3" text-anchor="middle" fill="#1a1a1a" >8</text>
<line x1="542.5" y1="665.8" x2="542.5" y2="673.4" stroke="#303030" stroke-width="1"/>
<text x="542.8" y="685.4" font-size="12.3" text-anchor="middle" fill="#1a1a1a" >10</text>
<line x1="566.5" y1="665.8" x2="566.5" y2="673.4" stroke="#303030" stroke-width="1"/>
<text x="566.16" y="685.4" font-size="12.3" text-anchor="middle" fill="#1a1a1a" >12</text>
<line x1="589.5" y1="665.8" x2="589.5" y2="673.4" stroke="#303030" stroke-width="1"/>
<text x="589.52" y="685.4" font-size="12.3" text-anchor="middle" fill="#1a1a1a" >14</text>
<line x1="612.5" y1="665.8" x2="612.5" y2="673.4" stroke="#303030" stroke-width="1"/>
<text x="612.88" y="685.4" font-size="12.3" text-anchor="middle" fill="#1a1a1a" >16</text>
<line x1="636.5" y1="665.8" x2="636.5" y2="673.4" stroke="#303030" stroke-width="1"/>
<text x="636.24" y="685.4" font-size="12.3" text-anchor="middle" fill="#1a1a1a" >18</text>
<line x1="659.5" y1="665.8" x2="659.5" y2="673.4" stroke="#303030" stroke-width="1"/>
<text x="659.6" y="685.4" font-size="12.3" text-anchor="middle" fill="#1a1a1a" >20</text>
<line x1="682.5" y1="665.8" x2="682.5" y2="673.4" stroke="#303030" stroke-width="1"/>
<text x="670.5" y="686" font-size="12.3" text-anchor="start" fill="#1a1a1a" >Q</text>
<text x="680.66" y="685.4" font-size="14" fill="#1a1a1a" style="stroke-width:0.05px">[</text>
<text x="685.3" y="685.6" font-size="12" textLength="13.6" lengthAdjust="spacingAndGlyphs" fill="#1a1a1a">l/s</text>
<text x="698.79" y="685.4" font-size="14" fill="#1a1a1a" style="stroke-width:0.05px">]</text>
<path d="M442.26,595.48 C443.62,594.79 447.69,592.69 450.4,591.3 C453.11,589.91 455.82,588.53 458.53,587.16 C461.24,585.78 463.95,584.42 466.66,583.06 C469.37,581.7 472.08,580.35 474.79,579 C477.5,577.66 480.22,576.32 482.93,574.99 C485.64,573.66 488.35,572.34 491.06,571.03 C493.77,569.72 496.48,568.41 499.19,567.12 C501.9,565.82 504.61,564.53 507.32,563.25 C510.03,561.97 512.75,560.7 515.46,559.44 C518.17,558.17 520.88,556.92 523.59,555.67 C526.3,554.43 529.01,553.19 531.72,551.96 C534.43,550.74 537.14,549.52 539.85,548.31 C542.56,547.1 545.27,545.9 547.99,544.71 C550.7,543.52 553.41,542.33 556.12,541.16 C558.83,539.99 561.54,538.83 564.25,537.68 C566.96,536.52 569.67,535.38 572.38,534.25 C575.09,533.11 577.8,531.99 580.51,530.88 C583.23,529.77 585.94,528.66 588.65,527.57 C591.36,526.48 594.07,525.4 596.78,524.33 C599.49,523.25 602.2,522.19 604.91,521.14 C607.62,520.09 610.33,519.06 613.04,518.03 C615.75,517 618.47,515.98 621.18,514.98 C623.89,513.97 626.6,512.98 629.31,511.99 C632.02,511.01 634.73,510.04 637.44,509.08 C640.15,508.12 642.86,507.17 645.57,506.23 C648.28,505.29 652.35,503.92 653.71,503.45" fill="none" stroke="#111" stroke-width="1.7" stroke-linecap="butt" stroke-linejoin="round"/>
<path d="M442.26,609.64 C443.62,608.98 447.69,606.98 450.4,605.67 C453.11,604.35 455.82,603.05 458.53,601.75 C461.24,600.45 463.95,599.17 466.66,597.89 C469.37,596.61 472.08,595.34 474.79,594.08 C477.5,592.82 480.22,591.58 482.93,590.34 C485.64,589.1 488.35,587.87 491.06,586.66 C493.77,585.44 496.48,584.24 499.19,583.04 C501.9,581.85 504.61,580.67 507.32,579.5 C510.03,578.33 512.75,577.17 515.46,576.02 C518.17,574.88 520.88,573.74 523.59,572.62 C526.3,571.5 529.01,570.39 531.72,569.3 C534.43,568.2 537.14,567.12 539.85,566.06 C542.56,564.99 545.27,563.93 547.99,562.9 C550.7,561.86 553.41,560.83 556.12,559.82 C558.83,558.81 561.54,557.81 564.25,556.83 C566.96,555.85 569.67,554.89 572.38,553.94 C575.09,552.99 577.8,552.05 580.51,551.13 C583.23,550.22 585.94,549.31 588.65,548.43 C591.36,547.54 594.07,546.67 596.78,545.82 C599.49,544.97 602.2,544.13 604.91,543.31 C607.62,542.5 610.33,541.69 613.04,540.91 C615.75,540.13 618.47,539.36 621.18,538.62 C623.89,537.87 626.6,537.14 629.31,536.43 C632.02,535.72 634.73,535.03 637.44,534.36 C640.15,533.69 642.86,533.04 645.57,532.41 C648.28,531.77 652.35,530.87 653.71,530.57" fill="none" stroke="#111" stroke-width="1.7" stroke-linecap="butt" stroke-linejoin="round"/>
<path d="M442.26,615.97 C443.62,615.29 447.69,613.2 450.4,611.86 C453.11,610.53 455.82,609.24 458.53,607.98 C461.24,606.72 463.95,605.49 466.66,604.3 C469.37,603.11 472.08,601.95 474.79,600.82 C477.5,599.69 480.22,598.6 482.93,597.53 C485.64,596.47 488.35,595.43 491.06,594.42 C493.77,593.42 496.48,592.44 499.19,591.48 C501.9,590.53 504.61,589.6 507.32,588.7 C510.03,587.79 512.75,586.91 515.46,586.06 C518.17,585.2 520.88,584.36 523.59,583.55 C526.3,582.74 529.01,581.94 531.72,581.17 C534.43,580.39 537.14,579.64 539.85,578.9 C542.56,578.16 545.27,577.44 547.99,576.73 C550.7,576.02 553.41,575.33 556.12,574.65 C558.83,573.97 561.54,573.31 564.25,572.66 C566.96,572 569.67,571.36 572.38,570.73 C575.09,570.1 577.8,569.47 580.51,568.86 C583.23,568.24 585.94,567.64 588.65,567.04 C591.36,566.43 594.07,565.84 596.78,565.25 C599.49,564.66 602.2,564.07 604.91,563.49 C607.62,562.9 610.33,562.32 613.04,561.74 C615.75,561.16 619.82,560.29 621.18,560" fill="none" stroke="#111" stroke-width="1.7" stroke-linecap="butt" stroke-linejoin="round"/>
<path d="M442.26,618 C443.62,617.35 447.69,615.38 450.4,614.14 C453.11,612.9 455.82,611.71 458.53,610.55 C461.24,609.4 463.95,608.29 466.66,607.22 C469.37,606.15 472.08,605.13 474.79,604.13 C477.5,603.14 480.22,602.19 482.93,601.27 C485.64,600.35 488.35,599.47 491.06,598.62 C493.77,597.77 496.48,596.96 499.19,596.17 C501.9,595.39 504.61,594.63 507.32,593.91 C510.03,593.18 512.75,592.48 515.46,591.81 C518.17,591.14 520.88,590.5 523.59,589.87 C526.3,589.25 529.01,588.65 531.72,588.08 C534.43,587.5 537.14,586.94 539.85,586.41 C542.56,585.87 545.27,585.35 547.99,584.85 C550.7,584.35 553.41,583.87 556.12,583.4 C558.83,582.93 561.54,582.47 564.25,582.03 C566.96,581.59 569.67,581.16 572.38,580.73 C575.09,580.31 577.8,579.9 580.51,579.49 C583.23,579.09 585.94,578.69 588.65,578.3 C591.36,577.9 594.07,577.51 596.78,577.13 C599.49,576.74 602.2,576.36 604.91,575.98 C607.62,575.59 610.33,575.21 613.04,574.82 C615.75,574.44 619.82,573.85 621.18,573.66" fill="none" stroke="#111" stroke-width="1.7" stroke-linecap="butt" stroke-linejoin="round"/>
<path d="M442.26,623.62 C443.62,623.2 447.69,621.94 450.4,621.13 C453.11,620.32 455.82,619.53 458.53,618.77 C461.24,618 463.95,617.25 466.66,616.52 C469.37,615.78 472.08,615.07 474.79,614.38 C477.5,613.68 480.22,613.01 482.93,612.34 C485.64,611.68 488.35,611.04 491.06,610.41 C493.77,609.79 496.48,609.17 499.19,608.58 C501.9,607.98 504.61,607.4 507.32,606.83 C510.03,606.26 512.75,605.71 515.46,605.17 C518.17,604.63 520.88,604.11 523.59,603.59 C526.3,603.08 529.01,602.58 531.72,602.09 C534.43,601.6 537.14,601.12 539.85,600.65 C542.56,600.19 545.27,599.73 547.99,599.28 C550.7,598.84 553.41,598.4 556.12,597.97 C558.83,597.54 561.54,597.13 564.25,596.71 C566.96,596.3 569.67,595.9 572.38,595.51 C575.09,595.11 577.8,594.73 580.51,594.34 C583.23,593.96 585.94,593.59 588.65,593.22 C591.36,592.85 594.07,592.49 596.78,592.13 C599.49,591.77 602.2,591.42 604.91,591.06 C607.62,590.71 610.33,590.37 613.04,590.03 C615.75,589.68 619.82,589.17 621.18,589" fill="none" stroke="#111" stroke-width="1.7" stroke-linecap="butt" stroke-linejoin="round"/>
<path d="M442.26,626.57 C443.62,626.19 447.69,625.05 450.4,624.32 C453.11,623.6 455.82,622.89 458.53,622.21 C461.24,621.52 463.95,620.86 466.66,620.21 C469.37,619.57 472.08,618.95 474.79,618.34 C477.5,617.74 480.22,617.15 482.93,616.58 C485.64,616.02 488.35,615.47 491.06,614.94 C493.77,614.4 496.48,613.89 499.19,613.39 C501.9,612.9 504.61,612.42 507.32,611.95 C510.03,611.49 512.75,611.04 515.46,610.61 C518.17,610.17 520.88,609.76 523.59,609.35 C526.3,608.95 529.01,608.56 531.72,608.18 C534.43,607.81 537.14,607.45 539.85,607.1 C542.56,606.75 545.27,606.41 547.99,606.09 C550.7,605.76 553.41,605.45 556.12,605.15 C558.83,604.85 561.54,604.56 564.25,604.28 C566.96,604 569.67,603.73 572.38,603.47 C575.09,603.22 577.8,602.97 580.51,602.73 C583.23,602.49 585.94,602.25 588.65,602.03 C591.36,601.81 594.07,601.59 596.78,601.38 C599.49,601.17 602.2,600.97 604.91,600.78 C607.62,600.59 610.33,600.4 613.04,600.22 C615.75,600.03 619.82,599.77 621.18,599.69" fill="none" stroke="#111" stroke-width="1.7" stroke-linecap="butt" stroke-linejoin="round"/>
<text x="27.2" y="748.6" font-size="19" font-weight="700" letter-spacing="1.9" fill="#141414" font-family='"Liberation Sans","Noto Sans CJK SC",sans-serif'>性能表</text>
<line x1="147.5" y1="761.75" x2="147.5" y2="973.1" stroke="#4a4a4a" stroke-width="1"/>
<line x1="255.5" y1="761.75" x2="255.5" y2="973.1" stroke="#4a4a4a" stroke-width="1"/>
<line x1="333.5" y1="761.75" x2="333.5" y2="973.1" stroke="#4a4a4a" stroke-width="1"/>
<line x1="385.5" y1="761.75" x2="385.5" y2="973.1" stroke="#4a4a4a" stroke-width="1"/>
<line x1="437.5" y1="761.75" x2="437.5" y2="973.1" stroke="#4a4a4a" stroke-width="1"/>
<line x1="489.5" y1="761.75" x2="489.5" y2="973.1" stroke="#4a4a4a" stroke-width="1"/>
<line x1="541.5" y1="761.75" x2="541.5" y2="973.1" stroke="#4a4a4a" stroke-width="1"/>
<line x1="594.5" y1="761.75" x2="594.5" y2="973.1" stroke="#4a4a4a" stroke-width="1"/>
<line x1="646.5" y1="761.75" x2="646.5" y2="973.1" stroke="#4a4a4a" stroke-width="1"/>
<line x1="698.5" y1="761.75" x2="698.5" y2="973.1" stroke="#4a4a4a" stroke-width="1"/>
<line x1="26.75" y1="807.5" x2="750.7" y2="807.5" stroke="#4a4a4a" stroke-width="1"/>
<line x1="26.75" y1="827.5" x2="255.5" y2="827.5" stroke="#4a4a4a" stroke-width="1"/>
<line x1="333.1" y1="827.5" x2="750.7" y2="827.5" stroke="#4a4a4a" stroke-width="1"/>
<line x1="26.75" y1="848.5" x2="255.5" y2="848.5" stroke="#4a4a4a" stroke-width="1"/>
<line x1="333.1" y1="848.5" x2="750.7" y2="848.5" stroke="#4a4a4a" stroke-width="1"/>
<line x1="26.75" y1="868.5" x2="255.5" y2="868.5" stroke="#4a4a4a" stroke-width="1"/>
<line x1="333.1" y1="868.5" x2="750.7" y2="868.5" stroke="#4a4a4a" stroke-width="1"/>
<line x1="26.75" y1="889.5" x2="255.5" y2="889.5" stroke="#4a4a4a" stroke-width="1"/>
<line x1="333.1" y1="889.5" x2="750.7" y2="889.5" stroke="#4a4a4a" stroke-width="1"/>
<line x1="26.75" y1="910.5" x2="255.5" y2="910.5" stroke="#4a4a4a" stroke-width="1"/>
<line x1="333.1" y1="910.5" x2="750.7" y2="910.5" stroke="#4a4a4a" stroke-width="1"/>
<line x1="26.75" y1="930.5" x2="255.5" y2="930.5" stroke="#4a4a4a" stroke-width="1"/>
<line x1="333.1" y1="930.5" x2="750.7" y2="930.5" stroke="#4a4a4a" stroke-width="1"/>
<line x1="26.75" y1="951.5" x2="255.5" y2="951.5" stroke="#4a4a4a" stroke-width="1"/>
<line x1="333.1" y1="951.5" x2="750.7" y2="951.5" stroke="#4a4a4a" stroke-width="1"/>
<rect x="26.75" y="761.75" width="723.95" height="211.35" fill="none" stroke="#222" stroke-width="1.8"/>
<text x="61.2" y="790.8" font-size="16.5" font-weight="400" letter-spacing="1.0" fill="#222" style="stroke:none" font-family='"Liberation Sans","Noto Sans CJK SC",sans-serif'>泵型号</text>
<text x="154.6" y="790.8" font-size="16.2" font-weight="400" letter-spacing="0.5" fill="#222" style="stroke:none" font-family='"Liberation Sans","Noto Sans CJK SC",sans-serif'>配用功率</text>
<text x="220.2" y="789.2" font-size="12.5" text-anchor="start" fill="#222" >(</text>
<text x="228.6" y="789.6" font-size="11.5" textLength="16" lengthAdjust="spacingAndGlyphs" fill="#222">kW</text>
<text x="248" y="789.2" font-size="12.5" text-anchor="start" fill="#222" >)</text>
<text x="294.2" y="789.8" font-size="15" text-anchor="middle" fill="#222">Q(m<tspan font-size="9" dy="-5">3</tspan><tspan dy="5">/h)</tspan></text>
<text x="358.7" y="790.6" font-size="15" text-anchor="middle" fill="#222" letter-spacing="0.6">5</text>
<text x="410.9" y="790.6" font-size="15" text-anchor="middle" fill="#222" letter-spacing="0.6">10</text>
<text x="463.1" y="790.6" font-size="15" text-anchor="middle" fill="#222" letter-spacing="0.6">20</text>
<text x="515.3" y="790.6" font-size="15" text-anchor="middle" fill="#222" letter-spacing="0.6">30</text>
<text x="567.5" y="790.6" font-size="15" text-anchor="middle" fill="#222" letter-spacing="0.6">40</text>
<text x="619.7" y="790.6" font-size="15" text-anchor="middle" fill="#222" letter-spacing="0.6">50</text>
<text x="671.9" y="790.6" font-size="15" text-anchor="middle" fill="#222" letter-spacing="0.6">60</text>
<text x="724.1" y="790.6" font-size="15" text-anchor="middle" fill="#222" letter-spacing="0.6">70</text>
<text x="35.4" y="822.42" font-size="14.5" text-anchor="start" fill="#222" >ZS65-50-125/3.0</text>
<text x="201.9" y="822.42" font-size="15" text-anchor="middle" fill="#222" letter-spacing="0.65">3</text>
<text x="359.5" y="822.42" font-size="15" text-anchor="middle" fill="#222" letter-spacing="0.65">18</text>
<text x="411.7" y="822.42" font-size="15" text-anchor="middle" fill="#222" letter-spacing="0.65">17.8</text>
<text x="463.9" y="822.42" font-size="15" text-anchor="middle" fill="#222" letter-spacing="0.65">17.2</text>
<text x="516.1" y="822.42" font-size="15" text-anchor="middle" fill="#222" letter-spacing="0.65">16.4</text>
<text x="568.3" y="822.42" font-size="15" text-anchor="middle" fill="#222" letter-spacing="0.65">15.1</text>
<text x="620.5" y="822.42" font-size="15" text-anchor="middle" fill="#222" letter-spacing="0.65">13</text>
<text x="672.7" y="822.42" font-size="15" text-anchor="middle" fill="#222" letter-spacing="0.65">10</text>
<text x="35.4" y="843.04" font-size="14.5" text-anchor="start" fill="#222" >ZS65-50-125/4.0</text>
<text x="201.9" y="843.04" font-size="15" text-anchor="middle" fill="#222" letter-spacing="0.65">4</text>
<text x="359.5" y="843.04" font-size="15" text-anchor="middle" fill="#222" letter-spacing="0.65">24.2</text>
<text x="411.7" y="843.04" font-size="15" text-anchor="middle" fill="#222" letter-spacing="0.65">24.2</text>
<text x="463.9" y="843.04" font-size="15" text-anchor="middle" fill="#222" letter-spacing="0.65">23.6</text>
<text x="516.1" y="843.04" font-size="15" text-anchor="middle" fill="#222" letter-spacing="0.65">22.6</text>
<text x="568.3" y="843.04" font-size="15" text-anchor="middle" fill="#222" letter-spacing="0.65">20.7</text>
<text x="620.5" y="843.04" font-size="15" text-anchor="middle" fill="#222" letter-spacing="0.65">18</text>
<text x="672.7" y="843.04" font-size="15" text-anchor="middle" fill="#222" letter-spacing="0.65">14.8</text>
<text x="35.4" y="863.66" font-size="14.5" text-anchor="start" fill="#222" >ZS65-50-160/5.5</text>
<text x="201.9" y="863.66" font-size="15" text-anchor="middle" fill="#222" letter-spacing="0.65">5.5</text>
<text x="359.5" y="863.66" font-size="15" text-anchor="middle" fill="#222" letter-spacing="0.65">31.6</text>
<text x="411.7" y="863.66" font-size="15" text-anchor="middle" fill="#222" letter-spacing="0.65">31.5</text>
<text x="463.9" y="863.66" font-size="15" text-anchor="middle" fill="#222" letter-spacing="0.65">31</text>
<text x="516.1" y="863.66" font-size="15" text-anchor="middle" fill="#222" letter-spacing="0.65">30</text>
<text x="568.3" y="863.66" font-size="15" text-anchor="middle" fill="#222" letter-spacing="0.65">28</text>
<text x="620.5" y="863.66" font-size="15" text-anchor="middle" fill="#222" letter-spacing="0.65">25</text>
<text x="672.7" y="863.66" font-size="15" text-anchor="middle" fill="#222" letter-spacing="0.65">21.5</text>
<text x="35.4" y="884.28" font-size="14.5" text-anchor="start" fill="#222" >ZS65-50-200/7.5</text>
<text x="201.9" y="884.28" font-size="15" text-anchor="middle" fill="#222" letter-spacing="0.65">7.5</text>
<text x="359.5" y="884.28" font-size="15" text-anchor="middle" fill="#222" letter-spacing="0.65">36.3</text>
<text x="411.7" y="884.28" font-size="15" text-anchor="middle" fill="#222" letter-spacing="0.65">36.6</text>
<text x="463.9" y="884.28" font-size="15" text-anchor="middle" fill="#222" letter-spacing="0.65">36.4</text>
<text x="516.1" y="884.28" font-size="15" text-anchor="middle" fill="#222" letter-spacing="0.65">35.6</text>
<text x="568.3" y="884.28" font-size="15" text-anchor="middle" fill="#222" letter-spacing="0.65">34.1</text>
<text x="620.5" y="884.28" font-size="15" text-anchor="middle" fill="#222" letter-spacing="0.65">32</text>
<text x="672.7" y="884.28" font-size="15" text-anchor="middle" fill="#222" letter-spacing="0.65">29.6</text>
<text x="35.4" y="904.9" font-size="14.5" text-anchor="start" fill="#222" >ZS65-50-200/9.2</text>
<text x="201.9" y="904.9" font-size="15" text-anchor="middle" fill="#222" letter-spacing="0.65">9.2</text>
<text x="359.5" y="904.9" font-size="15" text-anchor="middle" fill="#222" letter-spacing="0.65">43.5</text>
<text x="411.7" y="904.9" font-size="15" text-anchor="middle" fill="#222" letter-spacing="0.65">43.5</text>
<text x="463.9" y="904.9" font-size="15" text-anchor="middle" fill="#222" letter-spacing="0.65">43.5</text>
<text x="516.1" y="904.9" font-size="15" text-anchor="middle" fill="#222" letter-spacing="0.65">43</text>
<text x="568.3" y="904.9" font-size="15" text-anchor="middle" fill="#222" letter-spacing="0.65">42</text>
<text x="620.5" y="904.9" font-size="15" text-anchor="middle" fill="#222" letter-spacing="0.65">40</text>
<text x="672.7" y="904.9" font-size="15" text-anchor="middle" fill="#222" letter-spacing="0.65">37.5</text>
<text x="35.4" y="925.52" font-size="14.5" text-anchor="start" fill="#222" >ZS65-50-200/11.0</text>
<text x="201.9" y="925.52" font-size="15" text-anchor="middle" fill="#222" letter-spacing="0.65">11</text>
<text x="359.5" y="925.52" font-size="15" text-anchor="middle" fill="#222" letter-spacing="0.65">51.5</text>
<text x="411.7" y="925.52" font-size="15" text-anchor="middle" fill="#222" letter-spacing="0.65">51.5</text>
<text x="463.9" y="925.52" font-size="15" text-anchor="middle" fill="#222" letter-spacing="0.65">51</text>
<text x="516.1" y="925.52" font-size="15" text-anchor="middle" fill="#222" letter-spacing="0.65">50</text>
<text x="568.3" y="925.52" font-size="15" text-anchor="middle" fill="#222" letter-spacing="0.65">49.3</text>
<text x="620.5" y="925.52" font-size="15" text-anchor="middle" fill="#222" letter-spacing="0.65">48</text>
<text x="672.7" y="925.52" font-size="15" text-anchor="middle" fill="#222" letter-spacing="0.65">45.6</text>
<text x="35.4" y="946.14" font-size="14.5" text-anchor="start" fill="#222" >ZS65-50-200/15.0</text>
<text x="201.9" y="946.14" font-size="15" text-anchor="middle" fill="#222" letter-spacing="0.65">15</text>
<text x="359.5" y="946.14" font-size="15" text-anchor="middle" fill="#222" letter-spacing="0.65">59.7</text>
<text x="411.7" y="946.14" font-size="15" text-anchor="middle" fill="#222" letter-spacing="0.65">59.7</text>
<text x="463.9" y="946.14" font-size="15" text-anchor="middle" fill="#222" letter-spacing="0.65">59.6</text>
<text x="516.1" y="946.14" font-size="15" text-anchor="middle" fill="#222" letter-spacing="0.65">59.5</text>
<text x="568.3" y="946.14" font-size="15" text-anchor="middle" fill="#222" letter-spacing="0.65">59</text>
<text x="620.5" y="946.14" font-size="15" text-anchor="middle" fill="#222" letter-spacing="0.65">58</text>
<text x="672.7" y="946.14" font-size="15" text-anchor="middle" fill="#222" letter-spacing="0.65">56.2</text>
<text x="724.9" y="946.14" font-size="15" text-anchor="middle" fill="#222" letter-spacing="0.65">53</text>
<text x="35.4" y="966.8" font-size="14.5" text-anchor="start" fill="#222" >ZS65-50-200/18.5</text>
<text x="201.9" y="966.8" font-size="15" text-anchor="middle" fill="#222" letter-spacing="0.65">18.5</text>
<text x="359.5" y="966.8" font-size="15" text-anchor="middle" fill="#222" letter-spacing="0.65">70.2</text>
<text x="411.7" y="966.8" font-size="15" text-anchor="middle" fill="#222" letter-spacing="0.65">70.2</text>
<text x="463.9" y="966.8" font-size="15" text-anchor="middle" fill="#222" letter-spacing="0.65">70.1</text>
<text x="516.1" y="966.8" font-size="15" text-anchor="middle" fill="#222" letter-spacing="0.65">70</text>
<text x="568.3" y="966.8" font-size="15" text-anchor="middle" fill="#222" letter-spacing="0.65">69.1</text>
<text x="620.5" y="966.8" font-size="15" text-anchor="middle" fill="#222" letter-spacing="0.65">68</text>
<text x="672.7" y="966.8" font-size="15" text-anchor="middle" fill="#222" letter-spacing="0.65">66.4</text>
<text x="724.9" y="966.8" font-size="15" text-anchor="middle" fill="#222" letter-spacing="0.65">64</text>
<text x="293.6" y="886" font-size="13" text-anchor="middle" fill="#222" >H</text>
<text x="293.8" y="900.6" font-size="13" text-anchor="middle" fill="#222" letter-spacing="0.5">(m)</text>
</svg>
</body>
</html>
